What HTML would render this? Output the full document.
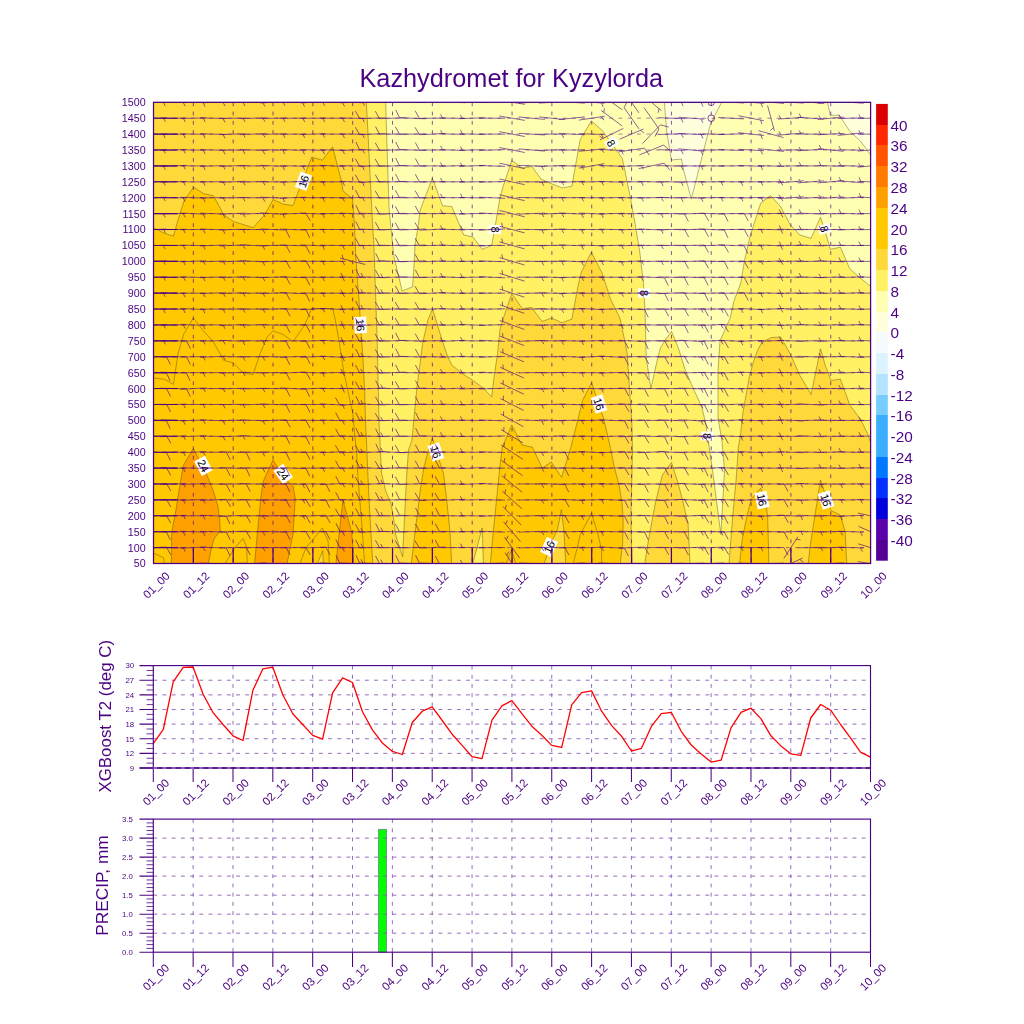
<!DOCTYPE html><html><head><meta charset="utf-8"><title>Kazhydromet for Kyzylorda</title><style>html,body{margin:0;padding:0;background:#fff}body{width:1024px;height:1024px;position:relative;overflow:hidden;font-family:"Liberation Sans",sans-serif}</style></head><body><svg width="1024" height="1024" viewBox="0 0 1024 1024" style="position:absolute;left:0;top:0;opacity:0.9999" font-family="Liberation Sans, sans-serif">
<defs><clipPath id="cp"><rect x="153.5" y="102.3" width="717.1" height="461.2"/></clipPath></defs>
<g clip-path="url(#cp)">
<rect x="153.5" y="102.3" width="717.1" height="461.2" fill="#ffffb2"/>
<polygon points="664.4,102.3 666.6,131.0 671.4,160.0 681.5,159.0 683.0,168.0 691.3,199.0 710.3,124.5 721.6,102.3" fill="#ffffdc" stroke="#3a3a00" stroke-opacity="0.7" stroke-width="0.55" stroke-linejoin="round"/>
<polygon points="827.5,102.3 830.3,115.3 839.2,115.3 849.4,130.8 860.4,141.0 870.6,155.0 870.6,102.3" fill="#ffffdc" stroke="#3a3a00" stroke-opacity="0.7" stroke-width="0.55" stroke-linejoin="round"/>
<polygon points="153.5,563.5 153.5,102.3 385.7,102.3 386.3,123.4 387.4,158.6 388.6,193.8 389.2,210.0 391.5,233.4 393.9,256.9 399.1,278.0 402.1,290.9 412.6,286.8 413.8,268.6 415.0,245.2 417.9,227.6 420.2,210.0 432.4,178.2 442.5,205.7 451.9,206.6 463.6,234.8 473.0,237.1 482.3,249.3 491.7,245.3 494.1,232.4 499.9,198.4 502.3,189.0 511.8,160.5 522.2,168.0 531.8,166.5 541.0,179.0 551.7,183.8 562.3,187.9 571.9,186.2 580.1,139.8 591.3,121.1 602.3,130.5 611.7,143.4 622.3,158.6 625.8,175.0 630.5,198.4 635.2,224.2 639.8,252.3 643.4,282.8 645.0,310.9 645.5,330.0 646.2,357.4 650.9,388.8 657.8,357.4 660.5,347.8 664.6,340.9 671.5,331.4 678.3,347.8 685.1,369.7 694.7,391.6 701.6,406.6 705.7,423.0 709.2,447.2 713.9,480.0 717.4,508.0 720.9,534.5 724.5,470.6 722.1,442.5 718.0,417.5 718.0,371.0 720.0,340.9 724.8,330.0 730.2,318.0 733.8,301.6 740.8,282.8 744.3,261.7 750.2,235.9 760.7,203.1 770.5,195.6 780.6,206.6 790.0,224.2 799.4,234.8 811.1,238.3 820.5,217.2 825.2,231.3 830.3,249.3 840.4,247.2 849.8,268.8 860.3,278.1 870.6,286.3 870.6,563.5" fill="#fff064" stroke="#3a3a00" stroke-opacity="0.7" stroke-width="0.55" stroke-linejoin="round"/>
<polygon points="153.5,563.5 153.5,102.3 366.3,102.3 368.1,135.2 369.8,170.3 371.6,205.5 372.4,220.0 373.9,245.2 375.1,280.3 376.3,315.5 376.9,330.0 377.5,355.2 378.3,390.3 379.2,425.5 380.4,450.0 381.6,473.4 385.7,491.0 390.9,502.7 393.9,520.3 395.6,534.4 400.3,549.6 402.7,556.6 403.2,543.8 404.4,520.3 405.6,496.9 406.8,473.4 408.5,450.0 412.0,440.0 414.4,413.8 416.7,390.3 419.6,366.9 422.6,343.4 427.9,320.0 432.5,309.0 436.0,320.0 441.3,337.6 447.2,355.2 451.9,365.2 463.6,374.5 473.0,380.4 482.3,387.4 491.7,396.8 494.1,376.9 497.6,353.4 499.9,330.0 503.4,318.0 511.8,293.4 522.2,308.6 531.6,307.4 542.1,321.5 551.5,318.0 562.0,322.7 571.9,319.1 577.7,287.5 581.3,272.3 591.3,252.3 602.3,273.4 610.5,299.2 619.9,318.0 624.6,340.0 627.2,353.4 629.5,388.6 631.9,423.8 632.5,450.0 632.0,473.4 631.0,508.6 631.4,543.8 632.0,563.5" fill="#ffd83a" stroke="#3a3a00" stroke-opacity="0.7" stroke-width="0.55" stroke-linejoin="round"/>
<polygon points="644.8,563.5 648.3,541.0 655.3,503.4 662.3,475.3 671.5,462.4 678.0,483.0 683.4,503.4 688.1,524.5 690.0,563.5" fill="#ffd83a" stroke="#3a3a00" stroke-opacity="0.7" stroke-width="0.55" stroke-linejoin="round"/>
<polygon points="729.0,563.5 732.6,517.5 736.1,480.0 738.4,447.2 740.5,435.0 742.6,414.8 746.0,395.6 749.4,376.5 753.5,361.5 757.6,350.5 761.7,342.3 771.3,337.5 780.6,337.0 790.0,353.4 799.4,374.5 811.1,394.5 820.5,348.8 825.2,365.2 831.0,380.4 840.4,379.2 849.8,405.0 860.3,419.1 867.3,433.1 870.6,442.5 870.6,563.5" fill="#ffd83a" stroke="#3a3a00" stroke-opacity="0.7" stroke-width="0.55" stroke-linejoin="round"/>
<polygon points="472.8,563.5 482.2,527.9 483.4,563.5" fill="#fff064" stroke="#3a3a00" stroke-opacity="0.7" stroke-width="0.55" stroke-linejoin="round"/>
<polygon points="153.5,563.5 153.5,227.9 164.1,233.2 173.4,236.1 179.9,213.8 184.0,200.9 193.4,187.2 203.9,193.8 213.3,195.6 223.8,214.8 233.2,221.4 253.1,227.7 264.8,214.8 273.0,199.6 283.6,204.3 293.0,205.5 311.7,157.0 322.3,160.2 332.6,146.9 341.7,182.0 342.9,190.8 352.5,199.0 353.4,210.0 354.6,227.6 355.8,256.9 357.5,280.3 359.3,303.8 361.0,331.7 362.8,355.2 364.6,390.3 365.7,425.5 366.9,450.0 368.1,479.3 369.8,514.5 371.6,543.8 372.8,563.5" fill="#ffc800" stroke="#3a3a00" stroke-opacity="0.7" stroke-width="0.55" stroke-linejoin="round"/>
<polygon points="411.4,563.5 414.4,537.9 417.3,514.5 420.2,491.0 423.8,467.6 428.4,450.0 432.4,437.8 439.6,461.7 443.5,473.4 447.0,502.7 450.0,532.0 451.7,563.5" fill="#ffc800" stroke="#3a3a00" stroke-opacity="0.7" stroke-width="0.55" stroke-linejoin="round"/>
<polygon points="490.4,563.5 492.7,537.9 495.1,514.5 497.4,491.0 499.8,467.6 502.3,447.2 511.8,424.9 521.7,444.8 532.3,447.2 542.3,468.0 551.3,462.0 561.6,477.3 570.9,447.2 578.0,419.1 582.7,400.3 591.6,382.7 603.8,419.1 610.9,450.0 614.4,467.6 619.1,485.2 622.0,502.7 623.2,520.3 622.6,543.8 620.2,563.5" fill="#ffc800" stroke="#3a3a00" stroke-opacity="0.7" stroke-width="0.55" stroke-linejoin="round"/>
<polygon points="739.6,563.5 742.0,541.0 746.6,517.5 751.3,498.8 760.7,488.2 765.4,498.8 767.7,517.5 768.9,563.5" fill="#ffc800" stroke="#3a3a00" stroke-opacity="0.7" stroke-width="0.55" stroke-linejoin="round"/>
<polygon points="808.3,563.5 809.9,548.0 814.6,517.5 820.5,480.0 825.2,494.0 831.0,510.5 840.4,515.2 845.1,531.6 846.7,563.5" fill="#ffc800" stroke="#3a3a00" stroke-opacity="0.7" stroke-width="0.55" stroke-linejoin="round"/>
<polygon points="544.1,563.5 552.9,539.0 557.5,529.7 561.4,509.8 564.0,532.0 565.7,563.5" fill="#ffd83a" stroke="#3a3a00" stroke-opacity="0.7" stroke-width="0.55" stroke-linejoin="round"/>
<polygon points="171.3,563.5 171.7,532.0 175.2,514.5 179.3,488.7 183.4,465.2 193.4,448.4 206.3,473.4 213.3,491.0 218.0,506.3 219.7,520.3 220.3,530.9 213.9,539.0 210.9,550.8 208.4,563.5" fill="#ffa000" stroke="#3a3a00" stroke-opacity="0.7" stroke-width="0.55" stroke-linejoin="round"/>
<polygon points="254.5,563.5 256.1,547.3 258.4,522.7 260.7,499.2 263.1,481.6 273.0,460.1 285.9,480.0 293.0,485.9 295.3,498.7 293.0,533.9 287.1,563.5" fill="#ffa000" stroke="#3a3a00" stroke-opacity="0.7" stroke-width="0.55" stroke-linejoin="round"/>
<polygon points="335.9,563.5 342.9,500.4 351.7,532.0 352.9,547.3 353.4,563.5" fill="#ffa000" stroke="#3a3a00" stroke-opacity="0.7" stroke-width="0.55" stroke-linejoin="round"/>
<polygon points="317.5,563.5 322.7,550.8 323.3,563.5" fill="#ffd83a" stroke="#3a3a00" stroke-opacity="0.7" stroke-width="0.55" stroke-linejoin="round"/>
<polyline points="153.5,378.0 164.1,379.2 173.4,384.4 178.1,353.4 184.0,333.5 193.4,318.0 202.7,330.0 213.3,341.7 223.8,360.5 233.2,362.8 243.8,373.4 253.1,374.5 260.2,353.4 267.2,337.0 273.0,330.9 283.6,334.7 293.0,341.7 304.7,325.0 311.7,308.6 332.8,308.6 335.3,320.0 339.4,343.4 344.0,372.7 348.8,395.0 352.9,413.8 355.2,440.0 356.4,450.0 358.1,479.3 360.5,508.6 362.8,537.9 364.6,563.5" fill="none" stroke="#3a3a00" stroke-opacity="0.7" stroke-width="0.55" stroke-linejoin="round"/>
<polyline points="153.5,553.1 163.5,557.8 164.1,563.5" fill="none" stroke="#3a3a00" stroke-opacity="0.7" stroke-width="0.55" stroke-linejoin="round"/>
<polyline points="225.0,563.5 234.4,548.4 243.2,538.5 246.7,547.3 247.3,563.5" fill="none" stroke="#3a3a00" stroke-opacity="0.7" stroke-width="0.55" stroke-linejoin="round"/>
<polyline points="300.0,563.5 305.9,548.0 322.3,528.0 328.1,541.0 329.3,563.5" fill="none" stroke="#3a3a00" stroke-opacity="0.7" stroke-width="0.55" stroke-linejoin="round"/>
<polyline points="506.2,563.5 511.5,549.6 515.6,563.5" fill="none" stroke="#3a3a00" stroke-opacity="0.7" stroke-width="0.55" stroke-linejoin="round"/>
<polyline points="573.4,563.5 580.4,534.4 591.5,513.3 598.0,534.4 601.5,549.6 601.7,563.5" fill="none" stroke="#3a3a00" stroke-opacity="0.7" stroke-width="0.55" stroke-linejoin="round"/>
<g transform="translate(303.5 181.3) rotate(-70)"><rect x="-8.2" y="-6.1" width="16.5" height="12.2" fill="#fff"/><text x="0" y="4.1" font-size="11" text-anchor="middle" fill="#000">16</text></g>
<g transform="translate(360.5 325.0) rotate(87)"><rect x="-8.2" y="-6.1" width="16.5" height="12.2" fill="#fff"/><text x="0" y="4.1" font-size="11" text-anchor="middle" fill="#000">16</text></g>
<g transform="translate(495.0 229.5) rotate(90)"><rect x="-4.5" y="-6.1" width="9.0" height="12.2" fill="#fff"/><text x="0" y="4.1" font-size="11" text-anchor="middle" fill="#000">8</text></g>
<g transform="translate(611.4 143.0) rotate(60)"><rect x="-4.5" y="-6.1" width="9.0" height="12.2" fill="#fff"/><text x="0" y="4.1" font-size="11" text-anchor="middle" fill="#000">8</text></g>
<g transform="translate(644.0 293.0) rotate(90)"><rect x="-4.5" y="-6.1" width="9.0" height="12.2" fill="#fff"/><text x="0" y="4.1" font-size="11" text-anchor="middle" fill="#000">8</text></g>
<g transform="translate(824.4 229.0) rotate(75)"><rect x="-4.5" y="-6.1" width="9.0" height="12.2" fill="#fff"/><text x="0" y="4.1" font-size="11" text-anchor="middle" fill="#000">8</text></g>
<g transform="translate(203.4 465.8) rotate(62)"><rect x="-8.2" y="-6.1" width="16.5" height="12.2" fill="#fff"/><text x="0" y="4.1" font-size="11" text-anchor="middle" fill="#000">24</text></g>
<g transform="translate(283.1 474.0) rotate(53)"><rect x="-8.2" y="-6.1" width="16.5" height="12.2" fill="#fff"/><text x="0" y="4.1" font-size="11" text-anchor="middle" fill="#000">24</text></g>
<g transform="translate(435.8 452.0) rotate(72)"><rect x="-8.2" y="-6.1" width="16.5" height="12.2" fill="#fff"/><text x="0" y="4.1" font-size="11" text-anchor="middle" fill="#000">16</text></g>
<g transform="translate(599.0 404.0) rotate(72)"><rect x="-8.2" y="-6.1" width="16.5" height="12.2" fill="#fff"/><text x="0" y="4.1" font-size="11" text-anchor="middle" fill="#000">16</text></g>
<g transform="translate(707.0 436.0) rotate(90)"><rect x="-4.5" y="-6.1" width="9.0" height="12.2" fill="#fff"/><text x="0" y="4.1" font-size="11" text-anchor="middle" fill="#000">8</text></g>
<g transform="translate(762.0 500.0) rotate(78)"><rect x="-8.2" y="-6.1" width="16.5" height="12.2" fill="#fff"/><text x="0" y="4.1" font-size="11" text-anchor="middle" fill="#000">16</text></g>
<g transform="translate(826.0 500.0) rotate(72)"><rect x="-8.2" y="-6.1" width="16.5" height="12.2" fill="#fff"/><text x="0" y="4.1" font-size="11" text-anchor="middle" fill="#000">16</text></g>
<g transform="translate(549.0 547.0) rotate(-65)"><rect x="-8.2" y="-6.1" width="16.5" height="12.2" fill="#fff"/><text x="0" y="4.1" font-size="11" text-anchor="middle" fill="#000">16</text></g>
<path d="M153.5 118.20H870.6M153.5 134.11H870.6M153.5 150.01H870.6M153.5 165.91H870.6M153.5 181.82H870.6M153.5 197.72H870.6M153.5 213.62H870.6M153.5 229.53H870.6M153.5 245.43H870.6M153.5 261.33H870.6M153.5 277.24H870.6M153.5 293.14H870.6M153.5 309.04H870.6M153.5 324.95H870.6M153.5 340.85H870.6M153.5 356.76H870.6M153.5 372.66H870.6M153.5 388.56H870.6M153.5 404.47H870.6M153.5 420.37H870.6M153.5 436.27H870.6M153.5 452.18H870.6M153.5 468.08H870.6M153.5 483.98H870.6M153.5 499.89H870.6M153.5 515.79H870.6M153.5 531.69H870.6M153.5 547.60H870.6" fill="none" stroke="#4b0082" stroke-width="0.55" stroke-dasharray="3.8 5.5" stroke-opacity="0.9"/>
<path d="M193.34 102.3V563.5M233.18 102.3V563.5M273.02 102.3V563.5M312.86 102.3V563.5M352.69 102.3V563.5M392.53 102.3V563.5M432.37 102.3V563.5M472.21 102.3V563.5M512.05 102.3V563.5M551.89 102.3V563.5M591.73 102.3V563.5M631.57 102.3V563.5M671.41 102.3V563.5M711.24 102.3V563.5M751.08 102.3V563.5M790.92 102.3V563.5M830.76 102.3V563.5" fill="none" stroke="#4b0082" stroke-width="0.75" stroke-dasharray="3.8 5.5" stroke-opacity="0.9"/>
<path d="M140.5 102.5L166.5 102.1M163.2 102.2L165.3 105.9M140.5 118.6L166.5 117.8M163.2 117.9L165.4 121.6M140.5 133.9L166.5 134.3M163.2 134.2L165.2 138.1M140.5 150.5L166.5 149.5M163.2 149.6L165.4 153.4M140.5 165.9L166.5 166.0M163.2 165.9L165.3 169.7M140.5 182.0L166.5 181.7M163.2 181.7L165.3 185.5M140.5 198.2L166.5 197.2M163.2 197.3L165.4 201.1M140.5 213.6L166.5 213.6M163.2 213.6L165.3 217.4M140.5 230.1L166.5 229.0M163.2 229.1L165.4 232.8M140.5 245.5L166.5 245.4M163.2 245.4L165.3 249.2M140.5 261.8L166.5 260.8M163.2 261.0L165.4 264.7M140.5 277.7L166.5 276.8M163.2 276.9L165.4 280.6M140.5 293.2L166.5 293.1M163.2 293.1L165.3 296.9M140.5 308.7L166.5 309.4M163.2 309.3L165.2 313.2M140.5 325.4L166.5 324.5M163.2 324.6L165.4 328.4M140.5 341.2L166.5 340.5M163.2 340.6L165.4 344.4M140.5 356.6L166.5 356.9M166.5 356.9L170.5 364.5M140.5 372.2L166.5 373.2M166.5 373.2L170.2 380.9M140.5 388.5L166.5 388.6M166.5 388.6L170.5 396.3M140.5 404.6L166.5 404.3M166.5 404.3L170.6 411.9M140.5 419.8L166.5 420.9M166.5 420.9L170.2 428.7M140.5 436.8L166.5 435.8M166.5 435.8L170.8 443.2M140.5 451.8L166.5 452.6M166.5 452.6L170.3 460.3M140.5 468.3L166.5 467.8M166.5 467.8L170.7 475.4M140.5 484.4L166.5 483.6M166.5 483.6L170.8 491.0M140.5 500.3L166.5 499.5M166.5 499.5L170.8 506.9M140.5 516.0L166.5 515.6M166.5 515.6L170.7 523.1M140.5 531.3L166.5 532.1M166.5 532.1L170.3 539.8M140.5 548.0L166.5 547.2M166.5 547.2L170.7 554.7M140.5 563.4L166.5 563.6M166.5 563.6L170.5 571.2M160.4 102.1L186.4 102.5M183.2 102.4L185.1 106.2M160.4 118.3L186.4 118.1M183.2 118.1L185.2 121.9M160.4 134.1L186.4 134.2M183.2 134.1L185.2 138.0M160.4 150.5L186.4 149.5M183.2 149.6L185.3 153.4M160.4 166.4L186.4 165.4M183.2 165.5L185.3 169.3M160.4 182.2L186.4 181.5M183.2 181.6L185.3 185.3M160.4 197.5L186.4 197.9M183.2 197.9L185.1 201.7M160.4 213.7L186.4 213.5M183.2 213.6L185.2 217.3M160.4 229.7L186.4 229.3M183.2 229.4L185.2 233.1M160.4 245.3L186.4 245.5M183.2 245.5L185.2 249.3M160.4 261.4L186.4 261.3M183.2 261.3L185.2 265.1M160.4 277.5L186.4 277.0M183.2 277.1L185.3 280.8M160.4 292.8L186.4 293.5M183.2 293.4L185.1 297.2M160.4 308.8L186.4 309.3M183.2 309.2L185.1 313.0M160.4 325.2L186.4 324.7M183.2 324.7L185.3 328.5M160.4 340.8L186.4 340.9M186.4 340.9L190.4 348.6M160.4 356.7L186.4 356.8M186.4 356.8L190.4 364.4M160.4 372.2L186.4 373.1M186.4 373.1L190.2 380.8M160.4 388.3L186.4 388.8M186.4 388.8L190.3 396.5M160.4 404.7L186.4 404.2M183.2 404.3L185.3 408.0M160.4 419.8L186.4 420.9M183.2 420.8L185.0 424.7M160.4 436.7L186.4 435.8M183.2 435.9L185.3 439.7M160.4 452.3L186.4 452.1M183.2 452.1L185.2 455.9M160.4 467.8L186.4 468.4M183.2 468.3L185.1 472.1M160.4 484.4L186.4 483.6M183.2 483.7L185.3 487.4M160.4 499.9L186.4 499.9M183.2 499.9L185.2 503.7M160.4 516.3L186.4 515.3M183.2 515.4L185.3 519.1M160.4 531.5L186.4 531.9M183.2 531.8L185.1 535.7M160.4 547.3L186.4 547.9M183.2 547.8L185.1 551.7M160.4 563.4L186.4 563.6M183.2 563.6L185.2 567.4M180.3 101.9L206.3 102.7M203.1 102.6L205.0 106.5M180.3 118.4L206.3 118.0M203.1 118.0L205.2 121.8M180.3 133.9L206.3 134.3M203.1 134.3L205.0 138.1M180.3 149.9L206.3 150.1M203.1 150.1L205.1 153.9M180.3 165.8L206.3 166.0M203.1 166.0L205.1 169.8M180.3 181.9L206.3 181.8M203.1 181.8L205.1 185.6M180.3 197.3L206.3 198.1M203.1 198.0L205.0 201.9M180.3 213.1L206.3 214.1M203.1 214.0L205.0 217.9M180.3 229.6L206.3 229.5M203.1 229.5L205.1 233.3M180.3 245.2L206.3 245.6M203.1 245.6L205.1 249.4M180.3 261.8L206.3 260.8M203.1 261.0L205.2 264.7M180.3 277.0L206.3 277.5M203.1 277.4L205.0 281.2M180.3 293.0L206.3 293.3M203.1 293.3L205.1 297.1M180.4 308.5L206.3 309.6M203.1 309.5L204.9 313.3M180.3 324.6L206.3 325.3M203.1 325.2L205.0 329.1M180.3 341.1L206.3 340.6M203.1 340.7L205.2 344.4M180.3 356.9L206.3 356.6M203.1 356.7L205.1 360.4M180.3 372.5L206.3 372.8M203.1 372.8L205.1 376.6M180.4 389.1L206.3 388.0M203.1 388.2L205.3 391.9M180.3 404.5L206.3 404.4M203.1 404.4L205.1 408.2M180.3 420.7L206.3 420.0M203.1 420.1L205.2 423.8M180.3 436.7L206.3 435.8M203.1 435.9L205.2 439.7M180.3 452.7L206.3 451.7M203.1 451.8L205.2 455.5M180.3 467.8L206.3 468.4M203.1 468.3L205.0 472.2M180.3 484.4L206.3 483.6M203.1 483.7L205.2 487.4M180.3 500.2L206.3 499.6M203.1 499.7L205.2 503.4M180.3 515.9L206.3 515.7M203.1 515.7L205.1 519.5M180.3 531.3L206.3 532.1M203.1 532.0L205.0 535.9M180.3 548.1L206.3 547.1M203.1 547.2L205.2 551.0M180.3 563.6L206.3 563.4M203.1 563.5L205.1 567.2M200.3 102.2L226.3 102.4M223.0 102.3L225.0 106.1M200.3 117.8L226.3 118.6M223.0 118.5L224.9 122.4M200.3 133.7L226.3 134.5M223.0 134.4L224.9 138.2M200.3 149.6L226.3 150.4M223.0 150.3L224.9 154.2M200.3 166.2L226.3 165.7M223.0 165.7L225.1 169.5M200.3 181.9L226.3 181.7M223.0 181.7L225.1 185.5M200.3 197.9L226.3 197.6M223.0 197.6L225.1 201.4M200.3 213.2L226.3 214.1M223.0 214.0L224.9 217.8M200.3 229.0L226.2 230.0M223.0 229.9L224.9 233.8M200.3 245.8L226.3 245.0M223.0 245.1L225.1 248.9M200.3 261.7L226.3 261.0M223.0 261.1L225.1 264.8M200.3 277.5L226.3 276.9M223.0 277.0L225.1 280.8M200.3 293.4L226.3 292.8M223.0 292.9L225.1 296.7M200.3 309.1L226.3 309.0M223.0 309.0L225.0 312.8M200.3 324.8L226.3 325.0M223.0 325.0L225.0 328.8M200.3 341.1L226.3 340.6M223.0 340.6L225.1 344.4M200.3 357.3L226.2 356.2M223.0 356.3L225.2 360.0M200.3 372.8L226.3 372.6M223.0 372.6L225.1 376.4M200.3 388.7L226.3 388.4M223.0 388.5L225.1 392.2M200.3 404.4L226.3 404.5M223.0 404.5L225.0 408.3M200.3 419.9L226.2 420.9M223.0 420.8L224.9 424.6M200.3 436.1L226.3 436.5M223.0 436.4L225.0 440.3M200.3 452.2L226.3 452.2M226.3 452.2L230.3 459.8M200.3 467.9L226.3 468.2M226.3 468.2L230.2 475.8M200.3 483.8L226.3 484.2M226.3 484.2L230.2 491.8M200.3 500.4L226.2 499.4M226.2 499.4L230.6 506.8M200.3 515.3L226.3 516.2M226.3 516.2L230.0 524.0M200.3 531.4L226.3 532.0M226.3 532.0L230.1 539.7M200.3 547.2L226.3 548.0M226.3 548.0L230.0 555.7M200.3 563.2L226.3 563.8M226.3 563.8L230.1 571.5M220.2 102.4L246.2 102.2M242.9 102.2L245.0 106.0M220.2 118.3L246.2 118.1M242.9 118.1L245.0 121.9M220.2 134.6L246.2 133.7M242.9 133.8L245.1 137.5M220.2 149.9L246.2 150.2M242.9 150.1L244.9 153.9M220.2 166.4L246.2 165.4M242.9 165.5L245.1 169.3M220.2 182.3L246.2 181.3M242.9 181.4L245.1 185.2M220.2 198.1L246.2 197.4M242.9 197.5L245.0 201.2M220.2 214.0L246.2 213.2M242.9 213.3L245.1 217.1M220.2 229.7L246.2 229.3M242.9 229.4L245.0 233.2M220.2 245.9L246.2 244.9M242.9 245.1L245.1 248.8M220.2 261.9L246.2 260.8M242.9 260.9L245.1 264.6M220.2 277.6L246.2 276.8M242.9 276.9L245.1 280.7M220.2 293.6L246.2 292.7M242.9 292.8L245.1 296.5M220.2 309.2L246.2 308.9M242.9 308.9L245.0 312.7M220.2 325.5L246.2 324.4M242.9 324.5L245.1 328.3M220.2 340.4L246.2 341.3M242.9 341.2L244.8 345.0M220.2 356.6L246.2 356.9M242.9 356.9L244.9 360.7M220.2 373.1L246.2 372.3M242.9 372.4L245.1 376.1M220.2 388.8L246.2 388.3M242.9 388.4L245.0 392.1M220.2 404.6L246.2 404.3M242.9 404.3L245.0 408.1M220.2 420.5L246.2 420.2M242.9 420.3L245.0 424.0M220.2 436.7L246.2 435.8M242.9 436.0L245.1 439.7M220.2 451.8L246.2 452.6M246.2 452.6L250.0 460.3M220.2 467.5L246.2 468.6M246.2 468.6L249.9 476.4M220.2 484.0L246.2 483.9M246.2 483.9L250.2 491.5M220.2 499.9L246.2 499.9M246.2 499.9L250.2 507.5M220.2 516.3L246.2 515.3M246.2 515.3L250.5 522.8M220.2 532.1L246.2 531.2M246.2 531.2L250.5 538.7M220.2 547.8L246.2 547.4M246.2 547.4L250.3 555.0M220.2 563.8L246.2 563.2M246.2 563.2L250.4 570.7M240.1 101.9L266.1 102.7M262.8 102.6L264.8 106.4M240.1 118.6L266.1 117.8M262.8 117.9L265.0 121.7M240.1 134.6L266.1 133.6M262.8 133.7L265.0 137.4M240.1 149.5L266.1 150.5M262.8 150.4L264.7 154.3M240.1 165.9L266.1 165.9M262.8 165.9L264.9 169.7M240.1 182.2L266.1 181.4M262.8 181.5L265.0 185.2M240.1 197.7L266.1 197.8M262.8 197.8L264.9 201.6M240.1 214.2L266.1 213.1M262.8 213.2L265.0 216.9M240.1 229.5L266.1 229.6M262.8 229.6L264.9 233.4M240.1 244.9L266.1 246.0M262.8 245.8L264.7 249.7M240.1 260.9L266.1 261.7M262.8 261.6L264.7 265.5M240.1 277.0L266.1 277.5M262.8 277.4L264.8 281.2M240.1 293.4L266.1 292.9M262.8 292.9L264.9 296.7M240.1 309.2L266.1 308.9M262.8 308.9L264.9 312.7M240.1 325.3L266.1 324.6M262.8 324.7L265.0 328.4M240.1 340.5L266.1 341.2M262.8 341.1L264.8 344.9M240.1 356.7L266.1 356.8M262.8 356.8L264.9 360.6M240.1 372.3L266.1 373.0M262.8 372.9L264.8 376.7M240.1 388.8L266.1 388.4M262.8 388.4L264.9 392.2M240.1 404.8L266.1 404.2M262.8 404.2L265.0 408.0M240.1 420.0L266.1 420.7M262.8 420.6L264.8 424.5M240.1 435.7L266.1 436.8M262.8 436.7L264.7 440.6M240.1 451.8L266.1 452.6M262.8 452.5L264.7 456.3M240.1 467.7L266.1 468.4M262.8 468.3L264.8 472.2M240.1 483.6L266.1 484.3M262.8 484.3L264.8 488.1M240.1 499.6L266.1 500.2M262.8 500.1L264.8 503.9M240.1 516.1L266.1 515.5M262.8 515.6L265.0 519.3M240.1 531.7L266.1 531.7M262.8 531.7L264.9 535.5M240.1 547.8L266.1 547.4M262.8 547.5L264.9 551.2M240.1 564.0L266.1 563.0M262.8 563.1L265.0 566.8M260.0 102.8L286.0 101.8M282.8 101.9L284.9 105.6M260.0 118.5L286.0 118.0M282.8 118.0L284.9 121.8M260.0 134.4L286.0 133.8M282.8 133.9L284.9 137.7M260.0 149.8L286.0 150.2M282.8 150.2L284.7 154.0M260.0 165.4L286.0 166.4M282.8 166.3L284.6 170.2M260.0 181.9L286.0 181.8M282.8 181.8L284.8 185.6M260.0 197.2L286.0 198.2M282.8 198.1L284.6 202.0M260.0 213.1L286.0 214.2M282.8 214.0L284.6 217.9M260.0 229.0L286.0 230.0M286.0 230.0L289.7 237.8M260.0 245.6L286.0 245.3M286.0 245.3L290.1 252.8M260.0 261.7L286.0 261.0M286.0 261.0L290.2 268.5M260.0 277.5L286.0 276.9M286.0 276.9L290.2 284.4M260.0 293.5L286.0 292.8M286.0 292.8L290.2 300.3M260.0 309.4L286.0 308.7M286.0 308.7L290.2 316.2M260.0 324.8L286.0 325.1M286.0 325.1L290.0 332.7M260.0 340.4L286.0 341.3M286.0 341.3L289.8 349.0M260.0 356.4L286.0 357.1M286.0 357.1L289.8 364.9M260.0 372.7L286.0 372.6M286.0 372.6L290.1 380.2M260.0 388.4L286.0 388.7M286.0 388.7L290.0 396.4M260.0 404.1L286.0 404.8M286.0 404.8L289.8 412.5M260.0 420.8L286.0 419.9M286.0 419.9L290.3 427.3M260.0 436.1L286.0 436.5M286.0 436.5L289.9 444.1M260.0 451.7L286.0 452.6M286.0 452.6L289.8 460.4M260.0 467.8L286.0 468.4M286.0 468.4L289.9 476.1M260.0 483.7L286.0 484.3M286.0 484.3L289.9 491.9M260.0 499.9L286.0 499.9M286.0 499.9L290.1 507.4M260.0 516.2L286.0 515.4M286.0 515.4L290.3 522.9M260.0 531.4L286.0 532.0M286.0 532.0L289.9 539.7M260.0 547.8L286.0 547.4M286.0 547.4L290.2 554.9M260.0 563.2L286.0 563.8M286.0 563.8L289.8 571.5M279.9 101.8L305.9 102.8M302.7 102.7L304.5 106.6M279.9 118.3L305.9 118.1M302.7 118.1L304.7 121.9M279.9 134.2L305.9 134.0M302.7 134.0L304.7 137.8M279.9 149.5L305.9 150.5M302.7 150.4L304.5 154.3M279.9 165.7L305.9 166.2M302.7 166.1L304.6 169.9M279.9 182.2L305.9 181.4M302.7 181.5L304.8 185.3M279.9 198.1L305.9 197.3M302.7 197.4L304.8 201.1M279.9 214.0L305.9 213.2M305.9 213.2L310.2 220.7M279.9 229.1L305.9 230.0M305.9 230.0L309.7 237.7M279.9 245.1L305.9 245.8M305.9 245.8L309.8 253.5M279.9 261.7L305.9 260.9M305.9 260.9L310.2 268.4M279.9 276.9L305.9 277.6M305.9 277.6L309.8 285.3M279.9 292.6L305.9 293.7M305.9 293.7L309.6 301.4M279.9 308.9L305.9 309.2M305.9 309.2L309.9 316.9M279.9 325.1L305.9 324.8M305.9 324.8L310.1 332.3M279.9 340.8L305.9 340.9M305.9 340.9L309.9 348.5M279.9 357.2L305.9 356.3M305.9 356.3L310.2 363.8M279.9 373.2L305.9 372.1M305.9 372.1L310.3 379.5M279.9 388.0L305.9 389.1M305.9 389.1L309.6 396.8M279.9 404.3L305.9 404.6M305.9 404.6L309.9 412.3M279.9 420.3L305.9 420.4M305.9 420.4L310.0 428.0M279.9 435.8L305.9 436.8M305.9 436.8L309.7 444.5M279.9 452.3L305.9 452.1M305.9 452.1L310.0 459.7M279.9 467.7L305.9 468.5M305.9 468.5L309.7 476.2M279.9 483.6L305.9 484.4M305.9 484.4L309.8 492.1M302.7 484.3L304.6 488.1M279.9 500.2L305.9 499.6M305.9 499.6L310.2 507.0M302.7 499.6L304.8 503.4M279.9 516.1L305.9 515.5M305.9 515.5L310.1 523.0M302.7 515.6L304.8 519.3M279.9 531.9L305.9 531.5M305.9 531.5L310.1 539.0M279.9 547.9L305.9 547.3M305.9 547.3L310.1 554.8M279.9 563.4L305.9 563.6M305.9 563.6L309.9 571.2M299.9 102.6L325.9 102.0M322.6 102.1L324.7 105.8M299.9 118.3L325.9 118.1M322.6 118.1L324.7 121.9M299.9 134.5L325.8 133.7M322.6 133.8L324.7 137.5M299.9 149.5L325.8 150.5M322.6 150.4L324.5 154.2M299.9 166.1L325.9 165.7M322.6 165.8L324.7 169.6M299.9 181.9L325.9 181.8M322.6 181.8L324.6 185.6M299.9 197.6L325.9 197.8M322.6 197.8L324.6 201.6M299.9 213.2L325.8 214.1M322.6 214.0L324.5 217.8M299.9 229.6L325.9 229.4M322.6 229.5L324.7 233.2M299.9 245.0L325.8 245.9M322.6 245.8L324.5 249.7M299.9 261.3L325.9 261.3M322.6 261.3L324.6 265.1M299.9 277.2L325.9 277.3M322.6 277.3L324.6 281.1M299.9 293.1L325.9 293.2M322.6 293.2L324.6 297.0M299.9 309.6L325.8 308.5M322.6 308.6L324.8 312.3M299.9 325.0L325.9 324.9M322.6 324.9L324.6 328.7M299.9 341.2L325.9 340.5M322.6 340.6L324.7 344.3M299.9 357.3L325.8 356.2M322.6 356.3L324.8 360.0M299.9 372.3L325.9 373.0M322.6 372.9L324.5 376.8M299.9 388.9L325.9 388.2M322.6 388.3L324.7 392.0M299.9 404.5L325.9 404.4M322.6 404.4L324.6 408.2M299.9 420.1L325.9 420.6M322.6 420.6L324.5 424.4M299.9 436.2L325.9 436.3M322.6 436.3L324.6 440.1M299.9 452.4L325.9 452.0M322.6 452.0L324.7 455.8M299.9 468.1L325.9 468.1M322.6 468.1L324.6 471.9M299.9 483.9L325.9 484.0M325.9 484.0L329.9 491.7M299.9 499.6L325.9 500.2M325.9 500.2L329.7 507.9M299.9 516.2L325.8 515.3M325.8 515.3L330.1 522.8M299.9 531.6L325.9 531.8M325.9 531.8L329.9 539.4M299.9 547.9L325.9 547.3M325.9 547.3L330.1 554.8M299.9 563.8L325.9 563.2M325.9 563.2L330.0 570.8M319.8 102.0L345.8 102.6M342.5 102.5L344.5 106.4M319.8 118.2L345.8 118.2M342.5 118.2L344.5 122.0M319.8 134.0L345.8 134.2M342.5 134.2L344.5 138.0M319.8 149.7L345.8 150.3M342.5 150.2L344.5 154.1M319.8 165.4L345.8 166.4M342.5 166.3L344.4 170.1M319.8 181.9L345.8 181.8M342.5 181.8L344.6 185.6M319.8 197.6L345.8 197.8M342.5 197.8L344.5 201.6M319.8 213.6L345.8 213.6M342.5 213.6L344.5 217.4M319.8 229.5L345.8 229.5M342.5 229.5L344.5 233.3M319.8 245.2L345.8 245.6M342.5 245.6L344.5 249.4M319.8 261.4L345.8 261.3M342.5 261.3L344.6 265.1M319.8 277.2L345.8 277.3M342.5 277.3L344.5 281.1M319.8 293.2L345.8 293.1M342.5 293.1L344.6 296.9M319.8 308.5L345.8 309.5M342.5 309.4L344.4 313.3M319.8 324.7L345.8 325.2M342.5 325.1L344.5 328.9M319.8 340.4L345.8 341.3M342.5 341.2L344.4 345.0M319.8 356.3L345.8 357.3M342.5 357.1L344.4 361.0M319.8 372.9L345.8 372.4M342.5 372.5L344.6 376.2M319.8 388.5L345.8 388.6M342.5 388.6L344.5 392.4M319.8 404.0L345.8 405.0M342.5 404.8L344.4 408.7M319.8 420.0L345.8 420.8M342.5 420.7L344.4 424.5M319.8 436.7L345.8 435.9M342.5 436.0L344.7 439.7M319.8 452.6L345.8 451.7M342.5 451.9L344.7 455.6M319.8 468.1L345.8 468.0M342.5 468.0L344.6 471.8M319.8 484.5L345.8 483.5M342.5 483.6L344.7 487.3M319.8 500.2L345.8 499.6M342.5 499.7L344.6 503.4M319.8 516.3L345.8 515.3M342.5 515.4L344.7 519.1M319.8 531.5L345.8 531.9M342.5 531.8L344.5 535.7M319.8 547.3L345.8 547.9M342.5 547.8L344.4 551.7M319.8 563.0L345.8 564.0M342.5 563.8L344.4 567.7M339.7 102.7L365.7 101.9M362.4 102.0L364.6 105.7M339.7 118.0L365.7 118.4M362.4 118.4L364.4 122.2M339.7 133.9L365.7 134.3M362.4 134.2L364.4 138.1M339.7 150.4L365.7 149.6M362.4 149.7L364.6 153.4M339.7 165.5L365.7 166.3M362.4 166.2L364.3 170.1M339.7 181.3L365.7 182.3M362.4 182.2L364.3 186.1M339.7 198.0L365.7 197.4M362.4 197.5L364.6 201.2M339.7 213.1L365.7 214.1M362.4 214.0L364.3 217.9M339.7 229.6L365.7 229.4M362.4 229.4L364.5 233.2M339.7 245.4L365.7 245.4M362.4 245.4L364.5 249.2M365.3 264.5L340.1 258.2M343.2 259.0L342.2 254.8M365.7 277.6L339.7 276.9M342.9 277.0L341.0 273.1M365.7 292.8L339.7 293.5M342.9 293.4L340.8 289.7M365.7 309.0L339.7 309.1M342.9 309.1L340.9 305.3M365.7 325.0L339.7 324.9M342.9 324.9L340.9 321.1M365.7 340.7L339.7 341.0M342.9 341.0L340.9 337.2M365.7 356.4L339.7 357.1M342.9 357.0L340.8 353.3M365.7 372.5L339.7 372.9M342.9 372.8L340.9 369.0M365.7 388.8L339.7 388.3M342.9 388.4L341.0 384.5M365.7 403.9L339.7 405.0M339.7 405.0L335.4 397.6M365.7 420.4L339.7 420.3M339.7 420.3L335.7 412.7M365.7 436.2L339.7 436.3M339.7 436.3L335.6 428.8M365.7 451.6L339.7 452.7M339.7 452.7L335.4 445.3M365.7 467.9L339.7 468.3M339.7 468.3L335.5 460.7M365.7 484.1L339.7 483.8M339.7 483.8L335.7 476.2M365.7 499.9L339.7 499.9M339.7 499.9L335.7 492.3M365.7 515.3L339.7 516.3M339.7 516.3L335.4 508.8M365.7 532.2L339.7 531.1M339.7 531.1L336.0 523.4M365.7 547.9L339.7 547.3M339.7 547.3L335.9 539.6M365.7 564.0L339.7 563.0M339.7 563.0L336.0 555.2M385.6 101.9L359.6 102.7M359.6 102.7L355.3 95.3M385.6 117.9L359.6 118.5M359.6 118.5L355.4 111.0M385.6 133.6L359.6 134.6M359.6 134.6L355.3 127.2M385.6 150.3L359.6 149.7M359.6 149.7L355.8 142.0M385.6 165.7L359.6 166.2M359.6 166.2L355.4 158.7M385.6 181.4L359.6 182.2M359.6 182.2L355.3 174.8M385.6 197.6L359.6 197.8M359.6 197.8L355.5 190.2M385.6 214.1L359.6 213.2M359.6 213.2L355.9 205.4M385.6 229.9L359.6 229.2M359.6 229.2L355.8 221.5M385.6 245.2L359.6 245.7M359.6 245.7L355.4 238.2M385.6 260.9L359.6 261.7M359.6 261.7L355.4 254.3M385.6 277.7L359.6 276.8M359.6 276.8L355.9 269.0M362.9 276.9L361.0 273.0M385.6 293.2L359.6 293.1M359.6 293.1L355.6 285.4M362.9 293.1L360.9 289.3M385.6 309.3L359.6 308.8M359.6 308.8L355.7 301.2M362.9 308.9L360.9 305.0M385.6 324.5L359.6 325.4M359.6 325.4L355.3 318.0M362.9 325.3L360.7 321.6M385.6 340.3L359.6 341.4M359.6 341.4L355.3 333.9M362.9 341.2L360.7 337.5M385.6 357.0L359.6 356.5M359.6 356.5L355.7 348.9M362.9 356.6L360.9 352.8M385.6 372.6L359.6 372.7M359.6 372.7L355.5 365.2M362.9 372.7L360.8 368.9M385.6 388.1L359.6 389.0M359.6 389.0L355.3 381.6M362.9 388.9L360.7 385.2M385.6 405.0L359.6 404.0M359.6 404.0L355.9 396.2M362.9 404.1L361.0 400.2M385.6 420.5L359.6 420.2M359.6 420.2L355.7 412.6M362.9 420.3L360.9 416.4M385.6 436.6L359.6 435.9M359.6 435.9L355.8 428.2M362.9 436.0L360.9 432.2M385.6 451.7L359.6 452.6M359.6 452.6L355.3 445.2M362.9 452.5L360.7 448.8M385.6 468.5L359.6 467.7M359.6 467.7L355.8 460.0M362.9 467.8L361.0 463.9M385.6 483.5L359.6 484.5M359.6 484.5L355.3 477.0M362.9 484.4L360.7 480.6M385.6 500.3L359.6 499.5M359.6 499.5L355.8 491.8M362.9 499.6L361.0 495.7M385.6 515.7L359.6 515.8M359.6 515.8L355.5 508.3M362.9 515.8L360.8 512.0M385.6 531.5L359.6 531.9M359.6 531.9L355.5 524.3M362.9 531.8L360.8 528.1M385.6 547.7L359.6 547.5M359.6 547.5L355.6 539.9M362.9 547.6L360.9 543.7M385.6 564.0L359.6 563.0M359.6 563.0L355.9 555.3M362.9 563.1L361.0 559.3M405.5 102.0L379.5 102.6M379.5 102.6L375.3 95.1M405.5 117.8L379.5 118.6M379.5 118.6L375.3 111.2M405.5 134.1L379.5 134.1M379.5 134.1L375.5 126.5M405.5 149.7L379.5 150.3M379.5 150.3L375.3 142.8M405.5 165.5L379.5 166.4M379.5 166.4L375.2 158.9M405.5 181.4L379.5 182.2M379.5 182.2L375.3 174.7M405.5 197.2L379.5 198.2M379.5 198.2L375.2 190.8M405.5 213.3L379.5 214.0M379.5 214.0L375.3 206.5M405.5 229.3L379.5 229.7M379.5 229.7L375.4 222.2M405.5 245.2L379.5 245.7M379.5 245.7L375.4 238.1M405.5 261.6L379.5 261.0M379.5 261.0L375.7 253.4M405.5 277.0L379.5 277.5M379.5 277.5L375.4 270.0M382.8 277.4L380.7 273.7M405.5 293.1L379.5 293.1M379.5 293.1L375.5 285.5M382.8 293.1L380.8 289.3M405.5 308.7L379.5 309.4M379.5 309.4L375.3 301.9M382.8 309.3L380.7 305.6M405.5 324.8L379.5 325.1M379.5 325.1L375.4 317.6M382.8 325.1L380.7 321.3M405.5 340.3L379.5 341.4M379.5 341.4L375.2 334.0M382.8 341.3L380.6 337.6M405.5 356.5L379.5 357.0M379.5 357.0L375.3 349.5M382.8 357.0L380.7 353.2M405.5 372.1L379.5 373.2M379.5 373.2L375.2 365.8M382.8 373.1L380.6 369.4M405.5 388.8L379.5 388.3M379.5 388.3L375.7 380.6M382.8 388.4L380.8 384.5M405.5 404.5L379.5 404.4M379.5 404.4L375.5 396.8M382.8 404.4L380.8 400.6M405.5 420.0L379.5 420.7M379.5 420.7L375.3 413.2M382.8 420.6L380.7 416.9M405.5 436.2L379.5 436.3M379.5 436.3L375.5 428.7M382.8 436.3L380.8 432.5M405.5 452.7L379.5 451.7M379.5 451.7L375.8 443.9M382.8 451.8L380.9 447.9M405.5 467.6L379.5 468.5M379.5 468.5L375.2 461.1M382.8 468.4L380.6 464.7M405.5 484.3L379.5 483.6M379.5 483.6L375.7 475.9M382.8 483.7L380.9 479.9M405.5 499.8L379.5 500.0M379.5 500.0L375.5 492.4M382.8 499.9L380.7 496.2M405.5 515.8L379.5 515.8M379.5 515.8L375.5 508.2M382.8 515.8L380.8 512.0M405.5 532.1L379.5 531.3M379.5 531.3L375.7 523.6M382.8 531.4L380.9 527.6M405.5 547.5L379.5 547.7M379.5 547.7L375.4 540.2M382.8 547.7L380.7 543.9M405.5 563.5L379.5 563.5M379.5 563.5L375.5 555.9M382.8 563.5L380.8 559.7M425.5 102.5L399.5 102.1M399.5 102.1L395.5 94.4M425.4 118.8L399.5 117.7M399.5 117.7L395.8 109.9M425.5 133.9L399.5 134.3M399.5 134.3L395.3 126.7M425.4 150.4L399.5 149.6M399.5 149.6L395.6 141.9M425.5 166.1L399.5 165.7M399.5 165.7L395.6 158.0M425.5 182.0L399.5 181.7M399.5 181.7L395.5 174.0M425.5 197.6L399.5 197.8M399.5 197.8L395.4 190.3M425.5 213.5L399.5 213.8M399.5 213.8L395.3 206.3M425.4 229.0L399.5 230.0M399.5 230.0L395.1 222.6M425.4 245.0L399.5 245.9M399.5 245.9L395.2 238.4M425.4 260.8L399.5 261.8M399.5 261.8L395.1 254.4M425.4 277.5L399.5 277.0M399.5 277.0L395.6 269.3M425.4 292.9L399.5 293.4M399.5 293.4L395.3 285.9M425.4 308.7L399.5 309.4M399.5 309.4L395.2 302.0M425.4 324.5L399.5 325.4M399.5 325.4L395.2 318.0M425.4 341.2L399.5 340.5M399.5 340.5L395.6 332.8M425.4 357.2L399.5 356.3M399.5 356.3L395.7 348.6M425.5 372.9L399.5 372.5M399.5 372.5L395.5 364.8M425.5 388.3L399.5 388.8M399.5 388.8L395.3 381.3M425.4 404.2L399.5 404.8M399.5 404.8L395.2 397.3M425.5 420.1L399.5 420.6M399.5 420.6L395.3 413.1M425.5 436.2L399.5 436.3M399.5 436.3L395.4 428.7M425.4 451.8L399.5 452.6M399.5 452.6L395.2 445.1M425.5 468.0L399.5 468.1M399.5 468.1L395.4 460.6M425.5 483.7L399.5 484.3M399.5 484.3L395.3 476.7M425.4 500.4L399.5 499.4M399.5 499.4L395.7 491.6M425.4 516.3L399.5 515.3M399.5 515.3L395.7 507.5M425.5 531.7L399.5 531.6M399.5 531.6L395.4 524.0M425.4 547.3L399.5 547.9M399.5 547.9L395.3 540.4M425.4 564.0L399.5 563.0M399.5 563.0L395.7 555.2M445.4 102.1L419.4 102.5M419.4 102.5L415.2 95.0M445.4 118.0L419.4 118.4M419.4 118.4L415.2 110.8M445.4 133.5L419.4 134.7M419.4 134.7L415.0 127.3M445.4 149.9L419.4 150.1M419.4 150.1L415.3 142.6M445.4 165.9L419.4 165.9M419.4 165.9L415.3 158.4M445.4 181.8L419.4 181.8M419.4 181.8L415.3 174.2M445.4 197.4L419.4 198.1M419.4 198.1L415.1 190.6M445.4 213.6L419.4 213.6M419.4 213.6L415.3 206.0M445.4 229.0L419.4 230.1M419.4 230.1L415.0 222.7M445.4 245.2L419.4 245.7M419.4 245.7L415.2 238.2M445.4 260.9L419.4 261.8M419.4 261.8L415.1 254.4M445.4 277.1L419.4 277.4M419.4 277.4L415.3 269.8M445.4 292.6L419.4 293.7M419.4 293.7L415.0 286.2M445.4 308.5L419.4 309.6M419.4 309.6L415.0 302.2M445.4 324.7L419.4 325.2M419.4 325.2L415.2 317.6M445.4 340.5L419.4 341.2M419.4 341.2L415.2 333.7M445.4 356.9L419.4 356.7M419.4 356.7L415.4 349.0M445.4 372.7L419.4 372.6M419.4 372.6L415.4 365.0M445.4 388.8L419.4 388.3M419.4 388.3L415.5 380.6M445.4 404.6L419.4 404.3M419.4 404.3L415.4 396.6M445.4 420.6L419.4 420.1M419.4 420.1L415.5 412.5M445.4 436.7L419.4 435.8M419.4 435.8L415.6 428.1M445.4 452.1L419.4 452.3M419.4 452.3L415.3 444.7M445.4 467.9L419.4 468.3M419.4 468.3L415.2 460.7M445.4 484.5L419.4 483.4M419.4 483.4L415.7 475.7M445.4 499.5L419.4 500.3M419.4 500.3L415.1 492.8M445.4 516.0L419.4 515.5M419.4 515.5L415.5 507.9M445.4 531.9L419.4 531.5M419.4 531.5L415.4 523.9M445.4 547.1L419.4 548.1M419.4 548.1L415.0 540.7M445.4 563.9L419.4 563.1M419.4 563.1L415.6 555.4M465.3 102.7L439.3 101.9M442.5 102.0L440.7 98.1M465.3 118.3L439.3 118.1M442.5 118.1L440.6 114.3M465.3 134.4L439.3 133.8M442.5 133.9L440.6 130.1M465.3 150.4L439.3 149.7M442.5 149.7L440.6 145.9M465.3 165.5L439.3 166.3M442.5 166.2L440.4 162.5M465.3 181.8L439.3 181.8M442.5 181.8L440.5 178.0M465.3 197.7L439.3 197.7M442.5 197.7L440.5 193.9M465.3 214.0L439.3 213.2M442.5 213.3L440.6 209.5M465.3 229.9L439.3 229.2M442.5 229.3L440.6 225.4M465.3 245.8L439.3 245.1M442.5 245.2L440.6 241.3M465.3 261.4L439.3 261.2M442.5 261.3L440.6 257.5M465.3 277.7L439.3 276.8M442.5 276.9L440.7 273.0M465.3 293.3L439.3 292.9M442.5 293.0L440.6 289.2M465.3 309.3L439.3 308.8M442.5 308.9L440.6 305.1M465.3 324.6L439.3 325.3M442.5 325.2L440.4 321.4M465.3 340.3L439.3 341.4M442.5 341.3L440.4 337.5M465.3 356.3L439.3 357.2M442.5 357.1L440.4 353.3M465.3 372.5L439.3 372.8M442.5 372.8L440.5 369.0M465.3 388.1L439.3 389.0M442.5 388.9L440.4 385.2M465.3 404.8L439.3 404.1M442.5 404.2L440.6 400.3M465.3 420.4L439.3 420.3M442.5 420.3L440.5 416.5M465.3 436.4L439.3 436.1M442.5 436.2L440.6 432.3M465.3 452.3L439.3 452.0M439.3 452.0L435.3 444.4M465.3 468.3L439.3 467.9M439.3 467.9L435.4 460.2M465.3 484.0L439.3 484.0M439.3 484.0L435.2 476.4M465.3 499.3L439.3 500.4M439.3 500.4L434.9 493.0M465.3 516.1L439.3 515.5M439.3 515.5L435.5 507.8M465.3 532.0L439.3 531.4M439.3 531.4L435.4 523.7M465.3 547.6L439.3 547.6M439.3 547.6L435.3 540.0M465.3 563.5L439.3 563.5M439.3 563.5L435.3 555.9M485.2 102.5L459.2 102.1M462.5 102.2L460.5 98.3M485.2 117.7L459.2 118.7M462.5 118.6L460.3 114.9M485.2 134.4L459.2 133.8M462.5 133.9L460.5 130.1M485.2 149.7L459.2 150.3M462.5 150.2L460.4 146.5M485.2 165.4L459.2 166.4M462.5 166.3L460.3 162.6M485.2 181.6L459.2 182.1M462.5 182.0L460.4 178.3M485.2 198.0L459.2 197.5M462.5 197.5L460.5 193.7M485.2 213.3L459.2 214.0M462.5 213.9L460.3 210.1M485.2 229.8L459.2 229.3M462.5 229.3L460.5 225.5M485.2 246.0L459.2 244.9M462.5 245.0L460.6 241.1M485.2 261.3L459.2 261.3M462.5 261.3L460.4 257.5M485.2 277.1L459.2 277.4M462.5 277.3L460.4 273.6M485.2 293.1L459.2 293.2M462.5 293.2L460.4 289.4M485.2 309.3L459.2 308.8M462.5 308.9L460.5 305.1M485.2 325.3L459.2 324.6M462.5 324.7L460.5 320.9M485.2 341.0L459.2 340.7M462.5 340.8L460.5 336.9M485.2 356.9L459.2 356.6M462.5 356.6L460.5 352.8M485.2 372.2L459.2 373.1M462.5 373.0L460.3 369.3M485.2 388.2L459.2 389.0M462.5 388.9L460.3 385.1M485.2 404.2L459.2 404.7M462.5 404.7L460.4 400.9M485.2 420.6L459.2 420.1M462.5 420.2L460.5 416.3M485.2 436.1L459.2 436.5M462.5 436.4L460.4 432.7M485.2 452.3L459.2 452.1M462.5 452.1L460.5 448.3M485.2 467.5L459.2 468.6M462.5 468.5L460.3 464.8M485.2 483.5L459.2 484.5M462.5 484.4L460.3 480.6M485.2 499.6L459.2 500.1M462.5 500.1L460.4 496.3M485.2 516.0L459.2 515.6M462.5 515.6L460.5 511.8M485.2 531.9L459.2 531.5M462.5 531.5L460.5 527.7M485.2 547.8L459.2 547.4M462.5 547.4L460.5 543.6M485.2 563.3L459.2 563.7M462.5 563.7L460.4 559.9M505.1 102.3L479.1 102.3M505.1 118.2L479.1 118.2M505.1 134.1L479.1 134.1M505.1 149.6L479.1 150.4M505.1 166.4L479.1 165.5M505.1 181.5L479.1 182.2M505.1 198.3L479.1 197.2M505.1 214.1L479.1 213.1M505.1 229.0L479.1 230.1M505.1 245.4L479.1 245.5M505.1 261.7L479.1 261.0M505.1 277.8L479.1 276.7M505.1 293.1L479.1 293.2M505.1 308.8L479.1 309.3M505.1 324.6L479.1 325.3M505.1 341.4L479.1 340.3M505.1 356.4L479.1 357.1M505.1 372.8L479.1 372.6M505.1 388.2L479.1 389.0M505.1 404.5L479.1 404.4M505.1 420.9L479.1 419.9M505.1 435.9L479.1 436.7M505.1 452.5L479.1 451.8M505.1 468.1L479.1 468.1M505.1 484.4L479.1 483.5M505.1 500.1L479.1 499.7M505.1 515.5L479.1 516.1M505.1 532.1L479.1 531.2M505.1 547.6L479.1 547.6M505.1 563.0L479.1 564.0M524.9 104.3L499.2 100.3M524.9 120.4L499.2 116.0M524.8 136.5L499.3 131.7M524.8 152.5L499.3 147.5M524.8 168.6L499.3 163.2M524.7 184.7L499.4 179.0M524.7 200.7L499.4 194.7M524.7 216.8L499.4 210.4M524.6 232.9L499.5 226.2M502.6 227.0L501.6 222.8M524.6 248.9L499.5 241.9M502.7 242.8L501.7 238.6M524.5 265.0L499.6 257.6M502.7 258.6L501.8 254.4M524.5 281.1L499.6 273.4M502.7 274.3L502.0 270.1M524.4 297.2L499.7 289.1M502.8 290.1L502.1 285.9M524.3 313.3L499.8 304.8M502.8 305.9L502.2 301.6M524.3 329.4L499.8 320.5M502.9 321.6L502.3 317.4M524.2 345.6L499.9 336.1M503.0 337.3L502.5 333.0M524.0 361.8L500.1 351.7M503.1 353.0L502.7 348.7M523.9 378.0L500.2 367.3M503.2 368.7L502.9 364.4M523.8 394.2L500.3 382.9M503.3 384.3L503.1 380.1M523.6 410.4L500.5 398.6M503.4 400.0L503.3 395.7M523.4 426.7L500.7 414.0M503.5 415.6L503.6 411.3M523.1 443.1L501.0 429.5M503.7 431.2L504.0 426.9M522.9 459.4L501.2 445.0M503.9 446.8L504.4 442.5M522.6 475.7L501.5 460.4M504.2 462.3L504.8 458.1M522.2 492.2L501.9 475.8M504.5 477.8L505.3 473.6M521.7 508.6L502.4 491.2M504.8 493.4L505.8 489.2M521.2 525.0L502.9 506.6M505.2 508.9L506.4 504.8M520.5 541.6L503.6 521.8M505.7 524.3L507.3 520.3M519.7 558.1L504.4 537.1M506.3 539.7L508.2 535.8M519.1 574.4L505.0 552.6M506.7 555.3L508.8 551.6M544.9 101.5L519.0 103.1M544.9 119.4L519.0 117.0M544.9 135.0L519.0 133.3M544.9 151.1L519.0 148.9M519.0 165.4L545.0 166.4M541.7 166.3L543.6 170.2M519.0 181.8L545.0 181.9M541.7 181.9L543.7 185.7M519.0 197.5L545.0 198.0M541.7 197.9L543.7 201.7M519.0 214.1L545.0 213.1M541.7 213.2L543.9 217.0M519.0 229.3L545.0 229.8M541.7 229.7L543.7 233.6M519.0 245.5L545.0 245.4M541.7 245.4L543.8 249.2M519.0 261.0L545.0 261.6M541.7 261.5L543.7 265.4M519.0 277.1L545.0 277.4M541.7 277.4L543.7 281.2M519.0 293.4L545.0 292.9M541.7 293.0L543.8 296.7M519.0 309.6L545.0 308.5M541.7 308.7L543.9 312.4M519.0 324.5L545.0 325.4M541.7 325.3L543.6 329.2M519.0 341.3L545.0 340.4M541.7 340.5L543.9 344.3M519.0 356.8L545.0 356.7M541.7 356.7L543.7 360.5M519.0 372.8L545.0 372.5M541.7 372.5L543.8 376.3M519.0 388.8L545.0 388.3M541.7 388.4L543.8 392.2M519.0 404.2L545.0 404.7M541.7 404.7L543.7 408.5M519.0 419.8L545.0 420.9M541.7 420.8L543.6 424.7M519.0 436.5L545.0 436.0M541.7 436.1L543.8 439.8M519.0 452.0L545.0 452.4M541.7 452.3L543.7 456.1M519.0 468.3L545.0 467.9M541.7 467.9L543.8 471.7M519.0 483.9L545.0 484.0M541.7 484.0L543.7 487.8M519.0 500.0L545.0 499.8M541.7 499.8L543.8 503.6M519.0 516.2L545.0 515.4M541.7 515.5L543.8 519.2M519.0 532.1L545.0 531.3M541.7 531.4L543.8 535.1M519.0 547.9L545.0 547.3M541.7 547.3L543.8 551.1M519.0 563.0L545.0 564.0M541.7 563.8L543.6 567.7M564.9 101.5L538.9 103.1M564.8 119.6L539.0 116.9M538.9 134.2L564.9 134.1M561.6 134.1L563.7 137.9M538.9 150.4L564.9 149.6M561.6 149.7L563.8 153.4M538.9 166.3L564.9 165.6M561.6 165.7L563.8 169.4M538.9 182.3L564.9 181.4M561.6 181.5L563.8 185.2M538.9 197.9L564.9 197.5M561.6 197.6L563.7 201.4M538.9 214.1L564.9 213.2M561.6 213.3L563.8 217.0M538.9 229.8L564.9 229.2M561.6 229.3L563.7 233.1M538.9 245.7L564.9 245.2M561.6 245.2L563.7 249.0M538.9 261.3L564.9 261.4M561.6 261.4L563.6 265.2M538.9 276.8L564.9 277.7M561.6 277.6L563.5 281.4M538.9 292.9L564.9 293.4M561.6 293.4L563.6 297.2M538.9 309.1L564.9 308.9M561.6 309.0L563.7 312.8M538.9 325.0L564.9 324.9M561.6 324.9L563.7 328.7M538.9 340.8L564.9 340.9M561.6 340.9L563.6 344.7M538.9 356.9L564.9 356.6M561.6 356.7L563.7 360.4M538.9 372.8L564.9 372.5M561.6 372.5L563.7 376.3M538.9 389.1L564.9 388.1M561.6 388.2L563.8 391.9M538.9 404.7L564.9 404.2M561.6 404.3L563.7 408.0M538.9 419.8L564.9 420.9M561.6 420.8L563.5 424.6M538.9 436.7L564.9 435.8M561.6 436.0L563.8 439.7M538.9 452.2L564.9 452.2M564.9 452.2L568.9 459.8M538.9 467.9L564.9 468.2M564.9 468.2L568.8 475.9M538.9 483.6L564.9 484.4M564.9 484.4L568.7 492.1M538.9 500.2L564.9 499.6M564.9 499.6L569.1 507.1M538.9 516.0L564.9 515.5M564.9 515.5L569.1 523.0M538.9 532.0L564.9 531.4M564.9 531.4L569.1 538.9M538.9 547.7L564.9 547.5M564.9 547.5L569.0 555.0M538.9 563.6L564.9 563.4M564.9 563.4L569.0 571.0M584.8 103.2L558.8 101.4M584.7 116.9L558.9 119.5M584.8 134.7L558.8 133.5M584.8 149.9L558.8 150.1M558.8 165.8L584.8 166.0M581.6 166.0L583.5 169.8M558.8 182.4L584.8 181.3M581.5 181.4L583.7 185.1M558.8 197.8L584.8 197.6M581.6 197.6L583.6 201.4M558.8 213.1L584.8 214.1M581.6 214.0L583.4 217.9M558.8 229.2L584.8 229.9M581.6 229.8L583.5 233.7M558.8 245.0L584.8 245.8M581.6 245.7L583.5 249.6M558.8 260.8L584.8 261.9M581.6 261.7L583.4 265.6M558.8 277.5L584.8 277.0M581.6 277.0L583.7 280.8M558.8 293.6L584.8 292.7M581.6 292.8L583.7 296.5M558.8 309.4L584.8 308.7M581.6 308.8L583.7 312.5M558.8 324.9L584.8 325.0M581.6 325.0L583.6 328.8M558.8 340.6L584.8 341.1M581.6 341.0L583.5 344.8M558.8 356.3L584.8 357.3M581.6 357.1L583.4 361.0M558.8 372.4L584.8 372.9M581.6 372.8L583.5 376.7M558.8 388.4L584.8 388.7M581.6 388.7L583.5 392.5M558.8 404.2L584.8 404.8M581.6 404.7L583.5 408.5M558.8 420.4L584.8 420.3M581.6 420.3L583.6 424.1M558.8 436.2L584.8 436.3M581.6 436.3L583.6 440.1M558.8 452.7L584.8 451.7M581.6 451.8L583.7 455.5M558.8 467.8L584.8 468.4M581.6 468.3L583.5 472.2M558.8 484.3L584.8 483.7M581.6 483.8L583.7 487.5M558.8 499.4L584.8 500.4M581.6 500.2L583.4 504.1M558.8 515.6L584.8 516.0M581.6 515.9L583.5 519.7M558.8 531.9L584.8 531.5M581.6 531.5L583.6 535.3M558.8 548.0L584.8 547.2M581.6 547.3L583.7 551.0M558.8 563.8L584.8 563.2M581.6 563.3L583.7 567.0M578.8 101.4L604.7 103.2M601.5 103.0L603.2 106.9M578.9 120.1L604.6 116.3M601.4 116.7L603.9 120.2M578.7 133.7L604.7 134.5M601.5 134.4L603.4 138.2M578.8 151.3L604.7 148.8M601.4 149.1L603.8 152.7M578.9 168.1L604.5 163.7M601.3 164.3L604.0 167.7M578.7 182.0L604.7 181.6M601.5 181.6L603.6 185.4M578.7 197.8L604.7 197.7M601.5 197.7L603.5 201.5M578.7 213.1L604.7 214.1M601.5 214.0L603.3 217.9M578.7 229.4L604.7 229.7M601.5 229.7L603.4 233.5M578.7 245.0L604.7 245.9M601.5 245.8L603.4 249.6M578.7 261.4L604.7 261.3M601.5 261.3L603.5 265.1M578.7 277.5L604.7 276.9M601.5 277.0L603.6 280.8M578.7 293.4L604.7 292.9M601.5 292.9L603.6 296.7M578.7 308.5L604.7 309.6M601.5 309.4L603.3 313.3M578.7 324.7L604.7 325.2M601.5 325.1L603.4 329.0M578.7 341.1L604.7 340.6M601.5 340.7L603.6 344.5M578.7 357.3L604.7 356.2M601.5 356.3L603.6 360.1M578.7 372.7L604.7 372.7M601.5 372.7L603.5 376.5M578.7 388.4L604.7 388.8M601.5 388.7L603.4 392.5M578.7 404.6L604.7 404.4M601.5 404.4L603.5 408.2M578.7 420.6L604.7 420.1M601.5 420.2L603.6 423.9M578.7 436.1L604.7 436.5M601.5 436.4L603.4 440.2M578.7 451.7L604.7 452.7M601.5 452.5L603.3 456.4M578.7 468.4L604.7 467.8M601.5 467.8L603.6 471.6M578.7 484.5L604.7 483.5M601.5 483.6L603.6 487.3M578.7 500.1L604.7 499.7M601.5 499.7L603.5 503.5M578.7 515.9L604.7 515.7M601.5 515.7L603.5 519.5M578.7 531.5L604.7 531.9M601.5 531.8L603.4 535.7M578.7 547.9L604.7 547.3M601.5 547.3L603.6 551.1M578.7 563.2L604.7 563.8M601.5 563.8L603.4 567.6M622.3 109.8L601.0 94.8M603.7 96.7L604.2 92.4M622.1 125.9L601.2 110.5M603.8 112.4L604.4 108.2M623.3 128.4L600.0 139.8M602.9 138.4L599.4 135.9M598.7 149.3L624.6 150.7M621.4 150.5L623.2 154.4M598.7 165.5L624.6 166.4M621.4 166.3L623.3 170.1M598.7 181.5L624.6 182.2M621.4 182.1L623.3 185.9M598.7 198.0L624.6 197.4M621.4 197.5L623.5 201.2M598.7 213.9L624.6 213.3M621.4 213.4L623.5 217.1M598.7 229.2L624.6 229.8M621.4 229.7L623.3 233.6M598.6 245.7L624.6 245.2M621.4 245.3L623.5 249.0M598.7 260.8L624.6 261.8M621.4 261.7L623.3 265.6M598.6 277.2L624.6 277.2M621.4 277.2L623.4 281.0M598.7 293.5L624.6 292.8M621.4 292.9L623.5 296.6M598.7 309.4L624.6 308.7M621.4 308.8L623.5 312.6M598.6 325.0L624.6 324.9M621.4 324.9L623.4 328.7M598.6 340.7L624.6 341.0M624.6 341.0L628.6 348.7M598.7 356.2L624.6 357.3M624.6 357.3L628.4 365.0M598.7 373.1L624.6 372.3M624.6 372.3L628.9 379.7M598.6 388.7L624.6 388.4M624.6 388.4L628.8 396.0M598.7 404.8L624.6 404.1M624.6 404.1L628.9 411.6M598.7 419.8L624.6 420.9M624.6 420.9L628.4 428.7M598.7 436.7L624.6 435.9M624.6 435.9L628.9 443.3M598.7 452.7L624.6 451.7M624.6 451.7L629.0 459.1M598.7 468.6L624.6 467.6M624.6 467.6L629.0 475.0M598.6 484.1L624.6 483.9M624.6 483.9L628.8 491.4M598.7 499.4L624.6 500.3M624.6 500.3L628.4 508.1M598.7 515.4L624.6 516.2M624.6 516.2L628.4 523.9M598.6 531.4L624.6 532.0M624.6 532.0L628.5 539.6M598.7 547.0L624.6 548.2M624.6 548.2L628.3 555.9M598.7 563.0L624.6 564.0M624.6 564.0L628.4 571.7M639.0 112.9L624.1 91.7M626.0 94.3L627.9 90.5M639.0 128.9L624.1 107.6M624.1 107.6L628.0 99.9M619.6 139.2L643.5 129.0M640.5 130.3L643.9 133.0M618.7 151.8L644.4 148.2M644.4 148.2L649.5 155.2M618.6 166.4L644.6 165.5M641.3 165.6L643.5 169.3M618.6 181.6L644.6 182.0M641.3 182.0L643.3 185.8M618.6 197.9L644.6 197.6M641.3 197.6L643.4 201.4M618.6 213.8L644.6 213.5M641.3 213.5L643.4 217.3M618.6 229.7L644.6 229.3M641.3 229.4L643.4 233.2M618.6 245.8L644.6 245.1M641.3 245.1L643.4 248.9M618.6 261.9L644.6 260.8M641.3 260.9L643.5 264.6M618.6 277.5L644.6 277.0M641.3 277.1L643.4 280.8M618.6 293.3L644.6 293.0M641.3 293.0L643.4 296.8M618.6 308.5L644.6 309.6M644.6 309.6L648.3 317.3M618.6 325.4L644.6 324.5M644.6 324.5L648.8 332.0M618.6 340.3L644.6 341.4M644.6 341.4L648.3 349.1M618.6 357.1L644.6 356.4M644.6 356.4L648.8 363.9M618.6 372.8L644.6 372.5M644.6 372.5L648.7 380.0M618.6 388.2L644.6 388.9M644.6 388.9L648.4 396.6M618.6 404.1L644.6 404.8M644.6 404.8L648.4 412.5M618.6 420.4L644.6 420.3M644.6 420.3L648.6 427.9M618.6 436.8L644.6 435.8M644.6 435.8L648.9 443.2M618.6 452.2L644.6 452.1M644.6 452.1L648.6 459.7M618.6 468.2L644.6 467.9M644.6 467.9L648.7 475.5M618.6 483.5L644.6 484.5M644.6 484.5L648.3 492.2M618.6 500.2L644.6 499.5M644.6 499.5L648.8 507.0M618.6 515.9L644.6 515.6M644.6 515.6L648.7 523.2M618.6 531.2L644.6 532.1M644.6 532.1L648.3 539.9M618.6 548.1L644.6 547.1M644.6 547.1L648.9 554.5M618.6 563.6L644.6 563.4M644.6 563.4L648.7 571.0M641.5 93.9L661.4 110.7M659.0 108.6L658.1 112.8M644.0 107.6L658.9 128.9M658.9 128.9L655.0 136.5M642.5 143.5L660.5 124.8M660.5 124.8L668.8 127.1M639.4 154.9L663.5 145.1M663.5 145.1L670.1 150.7M638.8 168.6L664.2 163.2M664.2 163.2L669.7 169.8M638.5 181.3L664.5 182.3M661.2 182.2L663.1 186.0M638.5 198.0L664.5 197.4M661.2 197.5L663.3 201.3M638.5 213.3L664.5 213.9M661.2 213.8L663.2 217.7M638.5 229.1L664.5 230.0M661.2 229.9L663.1 233.7M638.5 245.6L664.5 245.2M661.2 245.3L663.3 249.1M638.5 261.6L664.5 261.1M661.2 261.1L663.3 264.9M638.5 276.7L664.5 277.8M664.5 277.8L668.2 285.5M638.5 293.0L664.5 293.3M664.5 293.3L668.4 300.9M638.5 309.3L664.5 308.8M664.5 308.8L668.7 316.3M638.5 324.7L664.5 325.2M664.5 325.2L668.4 332.9M638.5 341.1L664.5 340.6M664.5 340.6L668.6 348.2M638.5 357.0L664.5 356.5M664.5 356.5L668.7 364.0M638.5 373.2L664.5 372.1M664.5 372.1L668.8 379.5M638.5 388.3L664.5 388.9M664.5 388.9L668.3 396.5M638.5 404.0L664.5 404.9M664.5 404.9L668.2 412.7M638.5 420.2L664.5 420.5M664.5 420.5L668.4 428.2M638.5 435.8L664.5 436.8M664.5 436.8L668.2 444.5M638.5 452.7L664.5 451.6M664.5 451.6L668.8 459.1M638.5 468.4L664.5 467.8M664.5 467.8L668.7 475.3M638.5 484.0L664.5 484.0M664.5 484.0L668.5 491.5M638.5 499.4L664.5 500.4M664.5 500.4L668.2 508.2M638.5 515.3L664.5 516.3M664.5 516.3L668.2 524.1M638.5 531.8L664.5 531.6M664.5 531.6L668.6 539.1M638.5 547.9L664.5 547.3M664.5 547.3L668.7 554.8M638.5 563.6L664.5 563.4M664.5 563.4L668.6 571.0M658.4 102.3L684.4 102.3M681.2 102.3L683.2 106.1M658.4 117.7L684.4 118.7M681.1 118.6L683.0 122.4M658.4 134.5L684.4 133.7M681.2 133.8L683.3 137.6M658.4 149.7L684.4 150.4M681.2 150.3L683.1 154.1M658.4 165.6L684.4 166.2M681.2 166.1L683.1 170.0M658.4 181.5L684.4 182.2M681.2 182.1L683.1 185.9M658.4 197.4L684.4 198.0M681.2 198.0L683.1 201.8M658.4 213.5L684.4 213.7M684.4 213.7L688.4 221.4M658.4 229.7L684.4 229.3M684.4 229.3L688.6 236.9M658.4 245.6L684.4 245.2M684.4 245.2L688.6 252.8M658.4 261.5L684.4 261.2M684.4 261.2L688.5 268.7M658.4 276.9L684.4 277.6M684.4 277.6L688.3 285.2M658.4 293.6L684.4 292.7M684.4 292.7L688.7 300.1M658.4 309.4L684.4 308.7M684.4 308.7L688.6 316.2M658.4 324.7L684.4 325.2M684.4 325.2L688.3 332.9M658.4 341.1L684.4 340.6M684.4 340.6L688.6 348.1M658.4 357.2L684.4 356.3M684.4 356.3L688.7 363.7M658.4 373.2L684.4 372.1M684.4 372.1L688.7 379.6M658.4 388.5L684.4 388.6M684.4 388.6L688.4 396.2M658.4 404.7L684.4 404.3M684.4 404.3L688.6 411.8M658.4 419.8L684.4 420.9M684.4 420.9L688.1 428.7M658.4 435.8L684.4 436.7M684.4 436.7L688.2 444.4M658.4 451.6L684.4 452.7M684.4 452.7L688.1 460.5M658.4 468.3L684.4 467.8M684.4 467.8L688.6 475.3M658.4 484.5L684.4 483.5M684.4 483.5L688.7 491.0M658.4 500.3L684.4 499.4M684.4 499.4L688.7 506.9M658.4 515.8L684.4 515.8M684.4 515.8L688.4 523.4M658.4 531.5L684.4 531.9M684.4 531.9L688.3 539.6M658.4 547.7L684.4 547.5M684.4 547.5L688.5 555.1M658.4 563.8L684.4 563.2M684.4 563.2L688.6 570.7M678.3 101.9L704.3 102.7M701.1 102.6L703.0 106.5M678.4 117.3L704.3 119.1M701.1 118.9L702.8 122.8M678.3 133.5L704.3 134.7M701.1 134.6L702.9 138.4M678.4 148.8L704.3 151.2M701.0 150.9L702.7 154.9M678.3 165.7L704.3 166.2M701.1 166.1L703.0 169.9M678.3 182.0L704.3 181.7M701.1 181.7L703.1 185.5M678.3 197.5L704.3 198.0M701.1 197.9L703.0 201.8M678.3 214.0L704.3 213.3M704.3 213.3L708.6 220.8M678.3 229.8L704.3 229.2M704.3 229.2L708.5 236.7M678.3 245.7L704.3 245.1M704.3 245.1L708.5 252.6M678.3 261.7L704.3 260.9M704.3 260.9L708.6 268.4M678.3 276.8L704.3 277.7M704.3 277.7L708.1 285.4M678.3 293.1L704.3 293.2M704.3 293.2L708.3 300.9M678.3 309.2L704.3 308.8M704.3 308.8L708.5 316.4M701.1 308.9L703.1 312.7M678.3 325.1L704.3 324.8M704.3 324.8L708.4 332.4M701.1 324.9L703.1 328.6M678.3 340.3L704.3 341.4M704.3 341.4L708.0 349.2M701.1 341.3L702.9 345.2M678.3 356.7L704.3 356.8M704.3 356.8L708.4 364.4M701.1 356.8L703.1 360.6M678.3 373.0L704.3 372.4M704.3 372.4L708.5 379.9M701.1 372.4L703.2 376.2M678.3 388.2L704.3 388.9M704.3 388.9L708.2 396.6M701.1 388.8L703.0 392.7M678.3 404.3L704.3 404.6M704.3 404.6L708.3 412.3M701.1 404.6L703.0 408.4M678.3 419.8L704.3 420.9M704.3 420.9L708.0 428.7M701.1 420.8L702.9 424.7M678.3 436.7L704.3 435.8M704.3 435.8L708.6 443.3M701.1 435.9L703.2 439.7M678.3 452.2L704.3 452.1M704.3 452.1L708.4 459.7M701.1 452.2L703.1 455.9M678.3 467.7L704.3 468.4M704.3 468.4L708.1 476.1M701.1 468.4L703.0 472.2M678.3 483.6L704.3 484.4M704.3 484.4L708.1 492.1M701.1 484.3L703.0 488.1M678.3 499.4L704.3 500.4M704.3 500.4L708.1 508.1M701.1 500.2L702.9 504.1M678.3 516.3L704.3 515.3M704.3 515.3L708.7 522.7M701.1 515.4L703.2 519.1M678.3 531.9L704.3 531.5M704.3 531.5L708.5 539.0M701.1 531.5L703.2 535.3M678.3 548.0L704.3 547.2M704.3 547.2L708.6 554.6M701.1 547.3L703.2 551.0M678.3 563.9L704.3 563.1M704.3 563.1L708.6 570.6M701.1 563.2L703.2 567.0M698.2 133.9L724.2 134.3M698.2 150.2L724.2 149.8M698.2 165.7L724.2 166.1M698.2 181.9L724.2 181.8M721.0 181.8L723.0 185.6M698.2 198.0L724.2 197.4M721.0 197.5L723.1 201.3M698.2 213.3L724.2 213.9M724.2 213.9L728.1 221.6M698.3 229.0L724.2 230.0M724.2 230.0L728.0 237.8M698.3 245.9L724.2 245.0M724.2 245.0L728.5 252.4M698.2 261.2L724.2 261.4M724.2 261.4L728.2 269.1M698.2 277.1L724.2 277.4M724.2 277.4L728.2 285.0M698.2 293.5L724.2 292.8M724.2 292.8L728.5 300.3M698.2 309.2L724.2 308.9M724.2 308.9L728.4 316.4M721.0 308.9L723.1 312.7M698.3 325.4L724.2 324.5M724.2 324.5L728.5 332.0M721.0 324.6L723.1 328.4M698.2 341.2L724.2 340.5M724.2 340.5L728.5 348.0M721.0 340.6L723.1 344.3M698.2 357.0L724.2 356.5M724.2 356.5L728.4 364.0M721.0 356.5L723.1 360.3M698.2 372.5L724.2 372.8M724.2 372.8L728.2 380.4M721.0 372.7L723.0 376.6M698.2 388.4L724.2 388.7M724.2 388.7L728.2 396.4M721.0 388.7L723.0 392.5M698.2 404.8L724.2 404.1M724.2 404.1L728.5 411.6M721.0 404.2L723.1 408.0M698.3 420.9L724.2 419.8M724.2 419.8L728.6 427.2M721.0 420.0L723.2 423.7M698.2 436.5L724.2 436.1M724.2 436.1L728.4 443.6M721.0 436.1L723.1 439.9M698.2 452.0L724.2 452.4M724.2 452.4L728.2 460.0M721.0 452.3L723.0 456.2M698.2 468.4L724.2 467.7M724.2 467.7L728.5 475.2M721.0 467.8L723.1 471.6M698.2 484.2L724.2 483.8M724.2 483.8L728.4 491.3M721.0 483.8L723.1 487.6M698.2 500.2L724.2 499.5M724.2 499.5L728.5 507.0M721.0 499.6L723.1 503.4M698.2 515.5L724.2 516.1M724.2 516.1L728.1 523.8M721.0 516.0L722.9 519.9M698.2 531.6L724.2 531.7M724.2 531.7L728.2 539.4M721.0 531.7L723.0 535.5M698.3 548.1L724.2 547.1M724.2 547.1L728.6 554.5M721.0 547.2L723.1 550.9M698.3 564.0L724.2 563.0M724.2 563.0L728.5 570.5M721.0 563.2L723.1 566.9M744.1 103.0L718.2 101.6M744.1 118.9L718.2 117.5M744.2 133.7L718.2 134.6M744.2 150.5L718.2 149.6M744.2 165.9L718.2 165.9M718.2 181.6L744.2 182.0M740.9 182.0L742.9 185.8M718.2 197.8L744.2 197.6M740.9 197.6L743.0 201.4M718.2 213.9L744.2 213.4M744.2 213.4L748.3 220.9M718.2 229.7L744.2 229.3M744.2 229.3L748.3 236.8M718.2 244.9L744.2 245.9M744.2 245.9L747.9 253.7M718.2 261.5L744.2 261.1M744.2 261.1L748.3 268.6M718.2 277.2L744.2 277.3M744.2 277.3L748.2 284.9M718.2 293.3L744.2 293.0M744.2 293.0L748.3 300.5M718.2 309.1L744.2 309.0M740.9 309.0L743.0 312.8M718.2 324.5L744.2 325.4M740.9 325.3L742.8 329.1M718.2 340.3L744.2 341.4M740.9 341.3L742.8 345.2M718.2 356.9L744.2 356.6M740.9 356.6L743.0 360.4M718.2 373.0L744.2 372.3M740.9 372.4L743.0 376.1M718.2 388.3L744.2 388.8M740.9 388.8L742.9 392.6M718.2 404.8L744.2 404.1M740.9 404.2L743.0 408.0M718.2 420.9L744.2 419.8M740.9 419.9L743.1 423.7M718.2 435.8L744.2 436.7M740.9 436.6L742.8 440.5M718.2 452.3L744.2 452.1M740.9 452.1L743.0 455.9M718.2 467.7L744.2 468.4M740.9 468.4L742.8 472.2M718.2 484.1L744.2 483.9M740.9 483.9L743.0 487.7M718.2 499.5L744.2 500.3M740.9 500.2L742.8 504.1M718.2 515.8L744.2 515.7M740.9 515.8L742.9 519.5M718.2 532.1L744.2 531.3M740.9 531.4L743.0 535.1M718.2 548.1L744.2 547.0M740.9 547.2L743.1 550.9M718.2 563.4L744.2 563.6M740.9 563.5L742.9 567.3M738.1 101.2L764.0 103.4M760.8 103.1L762.5 107.1M738.3 115.7L763.8 120.7M760.7 120.1L761.9 124.2M738.2 132.7L764.0 135.5M760.8 135.1L762.4 139.1M738.1 149.3L764.1 150.7M760.8 150.5L762.6 154.4M738.1 165.5L764.1 166.4M760.8 166.3L762.7 170.1M738.1 181.8L764.1 181.8M760.8 181.8L762.9 185.6M738.1 198.1L764.1 197.3M760.8 197.4L763.0 201.2M738.1 213.9L764.1 213.4M760.8 213.4L762.9 217.2M738.1 229.5L764.1 229.6M760.8 229.5L762.8 233.3M738.1 244.9L764.1 245.9M760.8 245.8L762.7 249.7M738.1 261.8L764.1 260.9M760.8 261.0L763.0 264.7M738.1 277.2L764.1 277.2M760.8 277.2L762.9 281.0M738.1 292.8L764.1 293.5M760.8 293.4L762.7 297.2M738.1 308.5L764.1 309.6M760.8 309.4L762.7 313.3M738.1 325.3L764.1 324.6M760.8 324.7L762.9 328.4M738.1 341.3L764.1 340.4M760.8 340.5L763.0 344.3M738.1 356.3L764.1 357.3M760.8 357.1L762.7 361.0M738.1 372.1L764.1 373.2M760.8 373.1L762.7 376.9M738.1 388.6L764.1 388.5M760.8 388.5L762.9 392.3M738.1 405.0L764.1 404.0M760.8 404.1L763.0 407.8M738.1 419.9L764.1 420.9M760.8 420.7L762.7 424.6M738.1 436.4L764.1 436.1M760.8 436.2L762.9 440.0M738.1 451.7L764.1 452.6M760.8 452.5L762.7 456.4M738.1 467.9L764.1 468.2M760.8 468.2L762.8 472.0M738.1 483.6L764.1 484.4M760.8 484.3L762.7 488.1M738.1 500.3L764.1 499.5M760.8 499.6L763.0 503.3M738.1 515.5L764.1 516.1M760.8 516.0L762.8 519.9M738.1 532.0L764.1 531.4M760.8 531.5L762.9 535.2M738.1 547.7L764.1 547.5M760.8 547.5L762.9 551.3M738.1 563.1L764.1 563.9M760.8 563.8L762.7 567.7M784.0 103.4L758.1 101.2M761.3 101.5L759.6 97.5M767.6 105.6L774.4 130.8M773.5 127.6L770.4 130.6M783.5 137.6L758.5 130.6M783.9 151.4L758.1 148.7M784.0 166.4L758.0 165.5M758.0 181.9L784.0 181.7M780.8 181.7L782.8 185.5M758.0 198.1L784.0 197.3M780.7 197.4L782.9 201.1M758.0 213.9L784.0 213.3M780.8 213.4L782.9 217.2M758.0 229.3L784.0 229.8M780.8 229.7L782.7 233.6M758.0 245.0L784.0 245.9M780.7 245.8L782.6 249.6M758.0 261.9L784.0 260.8M780.7 260.9L782.9 264.7M758.0 277.2L784.0 277.3M780.8 277.3L782.8 281.1M758.0 292.8L784.0 293.4M780.8 293.4L782.7 297.2M758.0 309.6L784.0 308.5M780.7 308.7L782.9 312.4M758.0 324.6L784.0 325.3M780.7 325.2L782.7 329.1M758.0 341.3L784.0 340.4M780.7 340.5L782.9 344.3M758.0 356.6L784.0 356.9M780.8 356.8L782.7 360.7M758.0 372.6L784.0 372.7M780.8 372.7L782.8 376.5M758.0 388.4L784.0 388.7M780.8 388.7L782.7 392.5M758.0 404.7L784.0 404.2M780.8 404.3L782.8 408.1M758.0 420.5L784.0 420.3M780.8 420.3L782.8 424.1M758.0 436.2L784.0 436.4M780.8 436.3L782.7 440.2M758.0 452.3L784.0 452.1M780.8 452.1L782.8 455.9M758.0 467.9L784.0 468.3M780.8 468.2L782.7 472.0M758.0 484.0L784.0 483.9M784.0 483.9L788.1 491.5M758.0 500.0L784.0 499.8M784.0 499.8L788.1 507.4M758.0 516.3L784.0 515.2M784.0 515.2L788.3 522.7M758.0 531.6L784.0 531.8M784.0 531.8L788.0 539.5M758.0 547.6L784.0 547.6M784.0 547.6L788.0 555.2M758.0 563.8L784.0 563.2M784.0 563.2L788.2 570.7M803.9 103.1L777.9 101.5M781.2 101.7L779.4 97.8M803.9 117.3L778.0 119.1M781.2 118.9L778.9 115.2M803.9 133.0L778.0 135.2M781.2 134.9L778.9 131.3M803.9 149.8L777.9 150.2M781.2 150.2L779.1 146.4M803.9 165.8L777.9 166.1M781.2 166.0L779.1 162.3M803.9 180.8L778.0 182.9M781.2 182.6L778.9 179.0M803.9 196.8L778.0 198.7M781.2 198.4L778.9 194.8M803.9 213.9L777.9 213.4M781.2 213.4L779.2 209.6M803.9 229.8L777.9 229.2M781.2 229.3L779.2 225.4M803.9 245.4L777.9 245.4M781.2 245.4L779.2 241.6M803.9 260.8L777.9 261.8M781.2 261.7L779.0 258.0M803.9 277.2L777.9 277.2M781.2 277.2L779.2 273.4M803.9 293.0L777.9 293.3M781.2 293.2L779.1 289.5M803.9 309.6L777.9 308.5M781.2 308.7L779.3 304.8M803.9 324.5L777.9 325.4M781.2 325.3L779.0 321.5M803.9 341.3L777.9 340.4M781.2 340.5L779.3 336.7M803.9 357.3L777.9 356.2M781.2 356.3L779.3 352.5M803.9 372.9L777.9 372.4M781.2 372.5L779.2 368.6M803.9 388.9L777.9 388.2M781.2 388.3L779.3 384.4M803.9 404.1L777.9 404.8M781.2 404.7L779.1 401.0M803.9 420.9L777.9 419.8M781.2 420.0L779.3 416.1M803.9 436.3L777.9 436.3M781.2 436.3L779.2 432.5M803.9 452.7L777.9 451.7M781.2 451.8L779.3 447.9M803.9 468.6L777.9 467.6M781.2 467.7L779.3 463.9M777.9 484.4L803.9 483.6M800.7 483.7L802.8 487.4M777.9 499.6L803.9 500.2M800.7 500.1L802.6 504.0M777.9 515.3L803.9 516.3M800.7 516.2L802.5 520.0M777.9 532.2L803.9 531.2M800.7 531.3L802.8 535.0M783.8 558.5L798.0 536.7M796.2 539.4L800.5 539.8M779.1 569.0L802.7 558.0M799.8 559.4L803.2 562.0M823.8 103.4L797.9 101.2M801.1 101.5L799.4 97.5M823.8 119.1L797.9 117.3M801.1 117.6L799.3 113.6M823.8 134.1L797.8 134.1M801.1 134.1L799.1 130.3M823.8 149.2L797.9 150.8M801.1 150.6L798.9 146.9M823.8 165.9L797.8 165.9M801.1 165.9L799.1 162.1M823.8 180.8L797.9 182.9M801.1 182.6L798.8 179.0M823.8 197.0L797.9 198.5M801.1 198.3L798.9 194.6M823.8 214.1L797.9 213.1M801.1 213.3L799.2 209.4M823.8 229.7L797.8 229.3M801.1 229.4L799.1 225.5M823.8 245.9L797.8 245.0M801.1 245.1L799.2 241.2M823.8 261.0L797.8 261.7M801.1 261.6L799.0 257.9M823.8 277.6L797.8 276.9M801.1 277.0L799.2 273.1M823.8 292.7L797.8 293.6M801.1 293.5L799.0 289.7M823.8 309.1L797.8 309.0M801.1 309.0L799.1 305.2M823.8 325.1L797.8 324.8M801.1 324.8L799.1 321.0M823.8 340.7L797.8 341.0M823.8 357.2L797.8 356.3M823.8 372.7L797.8 372.6M823.8 388.7L797.8 388.5M823.8 404.9L797.8 404.0M823.8 419.9L797.8 420.8M823.8 436.8L797.9 435.7M823.8 452.3L797.8 452.0M823.8 468.0L797.8 468.2M797.8 483.6L823.8 484.3M820.6 484.2L822.5 488.1M797.8 500.2L823.8 499.6M820.6 499.7L822.7 503.4M797.9 515.2L823.8 516.3M820.6 516.2L822.4 520.1M797.8 531.6L823.8 531.8M820.6 531.8L822.6 535.6M797.8 547.8L823.8 547.4M820.6 547.5L822.7 551.2M797.8 563.2L823.8 563.8M820.6 563.7L822.5 567.6M843.7 101.4L817.8 103.2M821.0 103.0L818.8 99.3M843.7 117.0L817.8 119.4M821.1 119.1L818.7 115.5M843.7 133.4L817.8 134.8M821.0 134.6L818.8 130.9M843.7 151.3L817.8 148.7M821.1 149.0L819.4 145.0M843.8 166.4L817.8 165.5M821.0 165.6L819.1 161.7M843.7 180.7L817.8 182.9M821.0 182.7L818.7 179.1M843.7 196.9L817.8 198.5M821.0 198.3L818.8 194.7M843.8 213.8L817.8 213.5M821.0 213.5L819.0 209.7M843.8 229.5L817.8 229.6M821.0 229.6L819.0 225.8M843.8 245.4L817.8 245.4M821.0 245.4L819.0 241.6M843.8 261.8L817.8 260.9M821.0 261.0L819.1 257.1M843.8 276.8L817.8 277.7M821.0 277.6L818.9 273.8M843.8 292.8L817.8 293.5M821.0 293.4L818.9 289.6M843.8 309.2L817.8 308.9M821.0 308.9L819.0 305.1M843.7 324.4L817.8 325.5M821.0 325.4L818.8 321.6M843.7 340.3L817.8 341.4M821.0 341.3L818.8 337.6M843.8 356.6L817.8 356.9M821.0 356.9L818.9 353.1M843.8 372.2L817.8 373.1M821.0 373.0L818.9 369.3M843.8 388.4L817.8 388.7M821.0 388.7L818.9 384.9M843.8 404.2L817.8 404.8M821.0 404.7L818.9 401.0M843.8 420.5L817.8 420.3M821.0 420.3L819.0 416.5M843.8 436.4L817.8 436.2M821.0 436.2L819.0 432.4M843.8 451.8L817.8 452.5M821.0 452.4L818.9 448.7M843.8 468.2L817.8 467.9M821.0 468.0L819.0 464.2M817.8 484.0L843.8 484.0M840.5 484.0L842.5 487.8M817.8 500.3L843.8 499.5M840.5 499.6L842.6 503.3M817.8 515.3L843.8 516.3M840.5 516.2L842.4 520.0M817.8 532.0L843.8 531.4M840.5 531.5L842.6 535.2M817.8 548.0L843.8 547.2M840.5 547.3L842.6 551.0M817.8 564.0L843.8 563.0M840.5 563.2L842.7 566.9M863.6 103.3L837.7 101.3M841.0 101.5L839.2 97.6M863.7 117.9L837.7 118.5M840.9 118.4L838.8 114.6M863.6 132.8L837.7 135.4M841.0 135.1L838.6 131.5M863.7 150.2L837.7 149.8M840.9 149.9L839.0 146.1M863.7 166.3L837.7 165.5M840.9 165.6L839.0 161.8M863.6 182.8L837.7 180.8M841.0 181.1L839.2 177.1M863.7 197.2L837.7 198.3M840.9 198.1L838.8 194.4M863.7 214.1L837.7 213.2M840.9 213.3L839.1 209.4M863.7 229.0L837.7 230.0M840.9 229.9L838.8 226.2M863.7 245.5L837.7 245.4M840.9 245.4L838.9 241.6M863.7 261.2L837.7 261.4M840.9 261.4L838.9 257.6M863.7 276.9L837.7 277.5M840.9 277.5L838.8 273.7M863.7 292.6L837.7 293.6M840.9 293.5L838.8 289.8M863.7 309.4L837.7 308.7M840.9 308.8L839.0 305.0M863.7 324.4L837.7 325.5M840.9 325.4L838.8 321.7M863.7 340.9L837.7 340.8M840.9 340.8L838.9 337.0M863.7 357.3L837.7 356.3M840.9 356.4L839.1 352.5M863.7 372.3L837.7 373.1M840.9 373.0L838.8 369.2M863.7 388.2L837.7 388.9M840.9 388.8L838.8 385.1M863.7 404.6L837.7 404.3M840.9 404.4L838.9 400.6M863.7 420.4L837.7 420.4M840.9 420.4L838.9 416.6M863.7 436.4L837.7 436.1M840.9 436.2L839.0 432.3M863.7 452.5L837.7 451.8M840.9 451.9L839.0 448.1M863.7 467.7L837.7 468.4M840.9 468.4L838.8 464.6M837.7 484.2L863.7 483.8M860.4 483.8L862.5 487.6M837.7 500.1L863.7 499.7M860.4 499.7L862.5 503.5M837.7 516.3L863.7 515.3M860.4 515.4L862.6 519.1M837.7 531.3L863.7 532.1M860.4 532.0L862.3 535.9M837.7 547.3L863.7 547.9M860.4 547.8L862.4 551.7M837.7 563.3L863.7 563.7M860.4 563.7L862.4 567.5M883.6 103.2L857.6 101.4M860.9 101.6L859.1 97.7M883.6 118.1L857.6 118.3M860.9 118.3L858.8 114.5M883.6 134.0L857.6 134.2M860.9 134.2L858.8 130.4M883.6 148.9L857.6 151.1M860.9 150.8L858.6 147.2M883.5 164.7L857.7 167.2M860.9 166.9L858.5 163.3M883.6 182.4L857.6 181.3M860.9 181.4L859.0 177.5M883.6 198.5L857.6 196.9M860.9 197.1L859.1 193.2M883.6 213.9L857.6 213.4M860.9 213.4L858.9 209.6M883.6 229.3L857.6 229.8M860.9 229.7L858.8 226.0M883.6 245.5L857.6 245.4M860.9 245.4L858.8 241.6M883.6 261.3L857.6 261.4M860.9 261.4L858.8 257.6M883.6 277.6L857.6 276.9M860.9 277.0L858.9 273.1M883.6 293.2L857.6 293.1M860.9 293.1L858.8 289.3M883.6 308.8L857.6 309.3M860.9 309.2L858.8 305.5M883.6 325.1L857.6 324.8M860.9 324.8L858.9 321.0M883.6 341.4L857.6 340.3M860.9 340.5L859.0 336.6M883.6 356.4L857.6 357.1M860.9 357.0L858.7 353.3M883.6 373.1L857.6 372.2M860.9 372.3L859.0 368.5M883.6 388.0L857.6 389.1M860.9 389.0L858.7 385.3M883.6 404.2L857.6 404.7M860.9 404.7L858.8 400.9M883.6 420.1L857.6 420.7M860.9 420.6L858.7 416.8M883.6 436.5L857.6 436.0M860.9 436.1L858.9 432.2M883.6 452.7L857.6 451.7M860.9 451.8L859.0 447.9M883.6 468.4L857.6 467.8M860.9 467.9L858.9 464.0M857.6 484.2L883.6 483.8M880.3 483.8L882.4 487.6M857.6 499.5L883.6 500.3M880.3 500.2L882.2 504.1M883.3 518.5L857.9 513.1M882.5 537.0L858.7 526.4M883.0 551.4L858.2 543.8M883.5 565.3L857.7 561.7" fill="none" stroke="#4b0082" stroke-width="0.62" stroke-linecap="butt"/>
<circle cx="711.2" cy="102.3" r="3.3" fill="none" stroke="#4b0082" stroke-width="0.7"/>
<circle cx="711.2" cy="118.2" r="3.3" fill="none" stroke="#4b0082" stroke-width="0.7"/>
</g>
<path d="M193.34 563.5V547.5M233.18 563.5V547.5M273.02 563.5V547.5M312.86 563.5V547.5M352.69 563.5V547.5M392.53 563.5V547.5M432.37 563.5V547.5M472.21 563.5V547.5M512.05 563.5V547.5M551.89 563.5V547.5M591.73 563.5V547.5M631.57 563.5V547.5M671.41 563.5V547.5M711.24 563.5V547.5M751.08 563.5V547.5M790.92 563.5V547.5M830.76 563.5V547.5" stroke="#4b0082" stroke-width="1.25" fill="none"/>
<path d="M153.5 118.20H177.8M153.5 134.11H177.8M153.5 150.01H177.8M153.5 165.91H177.8M153.5 181.82H177.8M153.5 197.72H177.8M153.5 213.62H177.8M153.5 229.53H177.8M153.5 245.43H177.8M153.5 261.33H177.8M153.5 277.24H177.8M153.5 293.14H177.8M153.5 309.04H177.8M153.5 324.95H177.8M153.5 340.85H177.8M153.5 356.76H177.8M153.5 372.66H177.8M153.5 388.56H177.8M153.5 404.47H177.8M153.5 420.37H177.8M153.5 436.27H177.8M153.5 452.18H177.8M153.5 468.08H177.8M153.5 483.98H177.8M153.5 499.89H177.8M153.5 515.79H177.8M153.5 531.69H177.8M153.5 547.60H177.8" stroke="#4b0082" stroke-width="1.1" fill="none"/>
<rect x="153.5" y="102.3" width="717.1" height="461.2" fill="none" stroke="#4b0082" stroke-width="1.25"/>
<text x="145.6" y="106.2" font-size="10.7" text-anchor="end" fill="#4b0082">1500</text>
<text x="145.6" y="122.1" font-size="10.7" text-anchor="end" fill="#4b0082">1450</text>
<text x="145.6" y="138.0" font-size="10.7" text-anchor="end" fill="#4b0082">1400</text>
<text x="145.6" y="153.9" font-size="10.7" text-anchor="end" fill="#4b0082">1350</text>
<text x="145.6" y="169.8" font-size="10.7" text-anchor="end" fill="#4b0082">1300</text>
<text x="145.6" y="185.7" font-size="10.7" text-anchor="end" fill="#4b0082">1250</text>
<text x="145.6" y="201.6" font-size="10.7" text-anchor="end" fill="#4b0082">1200</text>
<text x="145.6" y="217.5" font-size="10.7" text-anchor="end" fill="#4b0082">1150</text>
<text x="145.6" y="233.4" font-size="10.7" text-anchor="end" fill="#4b0082">1100</text>
<text x="145.6" y="249.3" font-size="10.7" text-anchor="end" fill="#4b0082">1050</text>
<text x="145.6" y="265.2" font-size="10.7" text-anchor="end" fill="#4b0082">1000</text>
<text x="145.6" y="281.1" font-size="10.7" text-anchor="end" fill="#4b0082">950</text>
<text x="145.6" y="297.0" font-size="10.7" text-anchor="end" fill="#4b0082">900</text>
<text x="145.6" y="312.9" font-size="10.7" text-anchor="end" fill="#4b0082">850</text>
<text x="145.6" y="328.8" font-size="10.7" text-anchor="end" fill="#4b0082">800</text>
<text x="145.6" y="344.8" font-size="10.7" text-anchor="end" fill="#4b0082">750</text>
<text x="145.6" y="360.7" font-size="10.7" text-anchor="end" fill="#4b0082">700</text>
<text x="145.6" y="376.6" font-size="10.7" text-anchor="end" fill="#4b0082">650</text>
<text x="145.6" y="392.5" font-size="10.7" text-anchor="end" fill="#4b0082">600</text>
<text x="145.6" y="408.4" font-size="10.7" text-anchor="end" fill="#4b0082">550</text>
<text x="145.6" y="424.3" font-size="10.7" text-anchor="end" fill="#4b0082">500</text>
<text x="145.6" y="440.2" font-size="10.7" text-anchor="end" fill="#4b0082">450</text>
<text x="145.6" y="456.1" font-size="10.7" text-anchor="end" fill="#4b0082">400</text>
<text x="145.6" y="472.0" font-size="10.7" text-anchor="end" fill="#4b0082">350</text>
<text x="145.6" y="487.9" font-size="10.7" text-anchor="end" fill="#4b0082">300</text>
<text x="145.6" y="503.8" font-size="10.7" text-anchor="end" fill="#4b0082">250</text>
<text x="145.6" y="519.7" font-size="10.7" text-anchor="end" fill="#4b0082">200</text>
<text x="145.6" y="535.6" font-size="10.7" text-anchor="end" fill="#4b0082">150</text>
<text x="145.6" y="551.5" font-size="10.7" text-anchor="end" fill="#4b0082">100</text>
<text x="145.6" y="567.4" font-size="10.7" text-anchor="end" fill="#4b0082">50</text>
<text transform="translate(156.3 585.2) rotate(-45)" font-size="11.5" text-anchor="middle" fill="#4b0082" y="4.0">01_00</text>
<text transform="translate(196.1 585.2) rotate(-45)" font-size="11.5" text-anchor="middle" fill="#4b0082" y="4.0">01_12</text>
<text transform="translate(236.0 585.2) rotate(-45)" font-size="11.5" text-anchor="middle" fill="#4b0082" y="4.0">02_00</text>
<text transform="translate(275.8 585.2) rotate(-45)" font-size="11.5" text-anchor="middle" fill="#4b0082" y="4.0">02_12</text>
<text transform="translate(315.7 585.2) rotate(-45)" font-size="11.5" text-anchor="middle" fill="#4b0082" y="4.0">03_00</text>
<text transform="translate(355.5 585.2) rotate(-45)" font-size="11.5" text-anchor="middle" fill="#4b0082" y="4.0">03_12</text>
<text transform="translate(395.3 585.2) rotate(-45)" font-size="11.5" text-anchor="middle" fill="#4b0082" y="4.0">04_00</text>
<text transform="translate(435.2 585.2) rotate(-45)" font-size="11.5" text-anchor="middle" fill="#4b0082" y="4.0">04_12</text>
<text transform="translate(475.0 585.2) rotate(-45)" font-size="11.5" text-anchor="middle" fill="#4b0082" y="4.0">05_00</text>
<text transform="translate(514.8 585.2) rotate(-45)" font-size="11.5" text-anchor="middle" fill="#4b0082" y="4.0">05_12</text>
<text transform="translate(554.7 585.2) rotate(-45)" font-size="11.5" text-anchor="middle" fill="#4b0082" y="4.0">06_00</text>
<text transform="translate(594.5 585.2) rotate(-45)" font-size="11.5" text-anchor="middle" fill="#4b0082" y="4.0">06_12</text>
<text transform="translate(634.4 585.2) rotate(-45)" font-size="11.5" text-anchor="middle" fill="#4b0082" y="4.0">07_00</text>
<text transform="translate(674.2 585.2) rotate(-45)" font-size="11.5" text-anchor="middle" fill="#4b0082" y="4.0">07_12</text>
<text transform="translate(714.0 585.2) rotate(-45)" font-size="11.5" text-anchor="middle" fill="#4b0082" y="4.0">08_00</text>
<text transform="translate(753.9 585.2) rotate(-45)" font-size="11.5" text-anchor="middle" fill="#4b0082" y="4.0">08_12</text>
<text transform="translate(793.7 585.2) rotate(-45)" font-size="11.5" text-anchor="middle" fill="#4b0082" y="4.0">09_00</text>
<text transform="translate(833.6 585.2) rotate(-45)" font-size="11.5" text-anchor="middle" fill="#4b0082" y="4.0">09_12</text>
<text transform="translate(873.4 585.2) rotate(-45)" font-size="11.5" text-anchor="middle" fill="#4b0082" y="4.0">10_00</text>
<text x="511.3" y="87.2" font-size="25.3" text-anchor="middle" fill="#4b0082">Kazhydromet for Kyzylorda</text>
<rect x="876.1" y="103.90" width="11.7" height="21.10" fill="#dc0000"/>
<rect x="876.1" y="125.00" width="11.7" height="20.00" fill="#ff2800"/>
<rect x="876.1" y="145.00" width="11.7" height="21.00" fill="#ff5500"/>
<rect x="876.1" y="166.00" width="11.7" height="21.00" fill="#ff7b00"/>
<rect x="876.1" y="187.00" width="11.7" height="21.00" fill="#ffa000"/>
<rect x="876.1" y="208.00" width="11.7" height="20.00" fill="#ffc800"/>
<rect x="876.1" y="228.00" width="11.7" height="21.00" fill="#ffc800"/>
<rect x="876.1" y="249.00" width="11.7" height="21.00" fill="#ffd83a"/>
<rect x="876.1" y="270.00" width="11.7" height="21.00" fill="#fff064"/>
<rect x="876.1" y="291.00" width="11.7" height="21.00" fill="#ffffb2"/>
<rect x="876.1" y="312.00" width="11.7" height="20.00" fill="#ffffdc"/>
<rect x="876.1" y="332.00" width="11.7" height="21.00" fill="#f5faff"/>
<rect x="876.1" y="353.00" width="11.7" height="21.00" fill="#dcf4ff"/>
<rect x="876.1" y="374.00" width="11.7" height="21.00" fill="#b4e4ff"/>
<rect x="876.1" y="395.00" width="11.7" height="20.00" fill="#78cdff"/>
<rect x="876.1" y="415.00" width="11.7" height="21.00" fill="#3caeff"/>
<rect x="876.1" y="436.00" width="11.7" height="21.00" fill="#3caeff"/>
<rect x="876.1" y="457.00" width="11.7" height="21.00" fill="#0078ff"/>
<rect x="876.1" y="478.00" width="11.7" height="20.00" fill="#0032ff"/>
<rect x="876.1" y="498.00" width="11.7" height="21.00" fill="#0000dc"/>
<rect x="876.1" y="519.00" width="11.7" height="21.00" fill="#5a00aa"/>
<rect x="876.1" y="540.00" width="11.7" height="20.70" fill="#550096"/>
<text x="890.6" y="130.7" font-size="15.3" fill="#4b0082">40</text>
<text x="890.6" y="151.4" font-size="15.3" fill="#4b0082">36</text>
<text x="890.6" y="172.2" font-size="15.3" fill="#4b0082">32</text>
<text x="890.6" y="193.0" font-size="15.3" fill="#4b0082">28</text>
<text x="890.6" y="213.7" font-size="15.3" fill="#4b0082">24</text>
<text x="890.6" y="234.5" font-size="15.3" fill="#4b0082">20</text>
<text x="890.6" y="255.2" font-size="15.3" fill="#4b0082">16</text>
<text x="890.6" y="276.0" font-size="15.3" fill="#4b0082">12</text>
<text x="890.6" y="296.8" font-size="15.3" fill="#4b0082">8</text>
<text x="890.6" y="317.5" font-size="15.3" fill="#4b0082">4</text>
<text x="890.6" y="338.3" font-size="15.3" fill="#4b0082">0</text>
<text x="890.6" y="359.1" font-size="15.3" fill="#4b0082">-4</text>
<text x="890.6" y="379.8" font-size="15.3" fill="#4b0082">-8</text>
<text x="890.6" y="400.6" font-size="15.3" fill="#4b0082">-12</text>
<text x="890.6" y="421.4" font-size="15.3" fill="#4b0082">-16</text>
<text x="890.6" y="442.1" font-size="15.3" fill="#4b0082">-20</text>
<text x="890.6" y="462.9" font-size="15.3" fill="#4b0082">-24</text>
<text x="890.6" y="483.6" font-size="15.3" fill="#4b0082">-28</text>
<text x="890.6" y="504.4" font-size="15.3" fill="#4b0082">-32</text>
<text x="890.6" y="525.2" font-size="15.3" fill="#4b0082">-36</text>
<text x="890.6" y="545.9" font-size="15.3" fill="#4b0082">-40</text>
<path d="M153.3 680.23H870.5M153.3 694.86H870.5M153.3 709.49H870.5M153.3 724.11H870.5M153.3 738.74H870.5M153.3 753.37H870.5M193.14 665.6V768.0M232.99 665.6V768.0M272.83 665.6V768.0M312.68 665.6V768.0M352.52 665.6V768.0M392.37 665.6V768.0M432.21 665.6V768.0M472.06 665.6V768.0M511.90 665.6V768.0M551.74 665.6V768.0M591.59 665.6V768.0M631.43 665.6V768.0M671.28 665.6V768.0M711.12 665.6V768.0M750.97 665.6V768.0M790.81 665.6V768.0M830.66 665.6V768.0" fill="none" stroke="#8a5cb4" stroke-width="0.9" stroke-dasharray="3.9 5.3"/>
<path d="M139.5 665.60H153.3M139.5 680.23H153.3M139.5 694.86H153.3M139.5 709.49H153.3M139.5 724.11H153.3M139.5 738.74H153.3M139.5 753.37H153.3M139.5 768.00H153.3" fill="none" stroke="#4b0082" stroke-width="1.05"/>
<path d="M146.5 670.48H153.3M146.5 675.35H153.3M146.5 685.10H153.3M146.5 689.98H153.3M146.5 699.73H153.3M146.5 704.61H153.3M146.5 714.36H153.3M146.5 719.24H153.3M146.5 728.99H153.3M146.5 733.87H153.3M146.5 743.62H153.3M146.5 748.50H153.3M146.5 758.25H153.3M146.5 763.12H153.3" fill="none" stroke="#4b0082" stroke-width="0.8"/>
<path d="M153.30 768.0V781.9M193.14 768.0V781.9M232.99 768.0V781.9M272.83 768.0V781.9M312.68 768.0V781.9M352.52 768.0V781.9M392.37 768.0V781.9M432.21 768.0V781.9M472.06 768.0V781.9M511.90 768.0V781.9M551.74 768.0V781.9M591.59 768.0V781.9M631.43 768.0V781.9M671.28 768.0V781.9M711.12 768.0V781.9M750.97 768.0V781.9M790.81 768.0V781.9M830.66 768.0V781.9M870.50 768.0V781.9" fill="none" stroke="#4b0082" stroke-width="1.05"/>
<text x="134.2" y="668.4" font-size="7.8" text-anchor="end" fill="#4b0082">30</text>
<text x="134.2" y="683.0" font-size="7.8" text-anchor="end" fill="#4b0082">27</text>
<text x="134.2" y="697.7" font-size="7.8" text-anchor="end" fill="#4b0082">24</text>
<text x="134.2" y="712.3" font-size="7.8" text-anchor="end" fill="#4b0082">21</text>
<text x="134.2" y="726.9" font-size="7.8" text-anchor="end" fill="#4b0082">18</text>
<text x="134.2" y="741.5" font-size="7.8" text-anchor="end" fill="#4b0082">15</text>
<text x="134.2" y="756.2" font-size="7.8" text-anchor="end" fill="#4b0082">12</text>
<text x="134.2" y="770.8" font-size="7.8" text-anchor="end" fill="#4b0082">9</text>
<text transform="translate(110.7 716.2) rotate(-90)" font-size="16.9" text-anchor="middle" fill="#4b0082">XGBoost T2 (deg C)</text>
<polyline points="153.3,743.6 163.3,729.3 173.2,681.9 183.2,667.4 193.1,667.0 203.1,694.2 213.1,712.7 223.0,724.5 233.0,735.8 243.0,740.5 252.9,690.3 262.9,668.8 272.8,667.2 282.8,694.8 292.8,713.7 302.7,724.5 312.7,735.4 322.6,739.1 332.6,692.8 342.6,677.8 352.5,682.5 362.5,711.8 372.4,729.9 382.4,743.0 392.4,751.4 402.3,754.5 412.3,722.5 422.3,711.2 432.2,706.9 442.2,720.5 452.1,734.2 462.1,745.4 472.1,756.7 482.0,758.6 492.0,720.2 501.9,705.9 511.9,700.6 521.9,713.7 531.8,726.2 541.8,735.2 551.7,745.4 561.7,747.3 571.7,704.9 581.6,692.6 591.6,690.9 601.6,711.2 611.5,725.4 621.5,736.2 631.4,751.0 641.4,748.3 651.4,726.4 661.3,713.7 671.3,712.3 681.2,731.3 691.2,745.0 701.2,753.9 711.1,762.1 721.1,760.2 731.0,727.9 741.0,712.3 751.0,708.2 760.9,718.6 770.9,735.8 780.9,745.9 790.8,753.8 800.8,755.3 810.7,718.0 820.7,704.5 830.7,710.2 840.6,724.5 850.6,738.1 860.5,752.2 870.5,757.1" fill="none" stroke="#ff0000" stroke-width="1.3" stroke-linejoin="round"/>
<rect x="153.3" y="665.6" width="717.2" height="102.4" fill="none" stroke="#4b0082" stroke-width="1.15"/>
<path d="M139.5 768.0H870.5" stroke="#4b0082" stroke-width="1.4"/>
<path d="M153.3 768.0H870.5" stroke="#9a78c0" stroke-width="1.3" stroke-dasharray="3.9 5.3" fill="none"/>
<text transform="translate(155.9 792.2) rotate(-45)" font-size="11.5" text-anchor="middle" fill="#4b0082" y="4.0">01_00</text>
<text transform="translate(195.7 792.2) rotate(-45)" font-size="11.5" text-anchor="middle" fill="#4b0082" y="4.0">01_12</text>
<text transform="translate(235.6 792.2) rotate(-45)" font-size="11.5" text-anchor="middle" fill="#4b0082" y="4.0">02_00</text>
<text transform="translate(275.4 792.2) rotate(-45)" font-size="11.5" text-anchor="middle" fill="#4b0082" y="4.0">02_12</text>
<text transform="translate(315.3 792.2) rotate(-45)" font-size="11.5" text-anchor="middle" fill="#4b0082" y="4.0">03_00</text>
<text transform="translate(355.1 792.2) rotate(-45)" font-size="11.5" text-anchor="middle" fill="#4b0082" y="4.0">03_12</text>
<text transform="translate(394.9 792.2) rotate(-45)" font-size="11.5" text-anchor="middle" fill="#4b0082" y="4.0">04_00</text>
<text transform="translate(434.8 792.2) rotate(-45)" font-size="11.5" text-anchor="middle" fill="#4b0082" y="4.0">04_12</text>
<text transform="translate(474.6 792.2) rotate(-45)" font-size="11.5" text-anchor="middle" fill="#4b0082" y="4.0">05_00</text>
<text transform="translate(514.4 792.2) rotate(-45)" font-size="11.5" text-anchor="middle" fill="#4b0082" y="4.0">05_12</text>
<text transform="translate(554.3 792.2) rotate(-45)" font-size="11.5" text-anchor="middle" fill="#4b0082" y="4.0">06_00</text>
<text transform="translate(594.1 792.2) rotate(-45)" font-size="11.5" text-anchor="middle" fill="#4b0082" y="4.0">06_12</text>
<text transform="translate(634.0 792.2) rotate(-45)" font-size="11.5" text-anchor="middle" fill="#4b0082" y="4.0">07_00</text>
<text transform="translate(673.8 792.2) rotate(-45)" font-size="11.5" text-anchor="middle" fill="#4b0082" y="4.0">07_12</text>
<text transform="translate(713.6 792.2) rotate(-45)" font-size="11.5" text-anchor="middle" fill="#4b0082" y="4.0">08_00</text>
<text transform="translate(753.5 792.2) rotate(-45)" font-size="11.5" text-anchor="middle" fill="#4b0082" y="4.0">08_12</text>
<text transform="translate(793.3 792.2) rotate(-45)" font-size="11.5" text-anchor="middle" fill="#4b0082" y="4.0">09_00</text>
<text transform="translate(833.2 792.2) rotate(-45)" font-size="11.5" text-anchor="middle" fill="#4b0082" y="4.0">09_12</text>
<text transform="translate(873.0 792.2) rotate(-45)" font-size="11.5" text-anchor="middle" fill="#4b0082" y="4.0">10_00</text>
<rect x="378.45" y="829.3" width="8.15" height="122.9" fill="#00ff00" stroke="#7a3ca0" stroke-opacity="0.65" stroke-width="0.8"/>
<path d="M153.3 838.11H870.5M153.3 857.13H870.5M153.3 876.14H870.5M153.3 895.16H870.5M153.3 914.17H870.5M153.3 933.19H870.5M193.14 819.1V952.2M232.99 819.1V952.2M272.83 819.1V952.2M312.68 819.1V952.2M352.52 819.1V952.2M392.37 819.1V952.2M432.21 819.1V952.2M472.06 819.1V952.2M511.90 819.1V952.2M551.74 819.1V952.2M591.59 819.1V952.2M631.43 819.1V952.2M671.28 819.1V952.2M711.12 819.1V952.2M750.97 819.1V952.2M790.81 819.1V952.2M830.66 819.1V952.2" fill="none" stroke="#8a5cb4" stroke-width="0.9" stroke-dasharray="3.9 5.3"/>
<path d="M139.5 819.10H153.3M139.5 838.11H153.3M139.5 857.13H153.3M139.5 876.14H153.3M139.5 895.16H153.3M139.5 914.17H153.3M139.5 933.19H153.3M139.5 952.20H153.3" fill="none" stroke="#4b0082" stroke-width="1.05"/>
<path d="M146.5 822.90H153.3M146.5 826.71H153.3M146.5 830.51H153.3M146.5 834.31H153.3M146.5 841.92H153.3M146.5 845.72H153.3M146.5 849.52H153.3M146.5 853.33H153.3M146.5 860.93H153.3M146.5 864.73H153.3M146.5 868.54H153.3M146.5 872.34H153.3M146.5 879.95H153.3M146.5 883.75H153.3M146.5 887.55H153.3M146.5 891.35H153.3M146.5 898.96H153.3M146.5 902.76H153.3M146.5 906.57H153.3M146.5 910.37H153.3M146.5 917.97H153.3M146.5 921.78H153.3M146.5 925.58H153.3M146.5 929.38H153.3M146.5 936.99H153.3M146.5 940.79H153.3M146.5 944.59H153.3M146.5 948.40H153.3" fill="none" stroke="#4b0082" stroke-width="0.8"/>
<path d="M153.30 952.2V966.9M193.14 952.2V966.9M232.99 952.2V966.9M272.83 952.2V966.9M312.68 952.2V966.9M352.52 952.2V966.9M392.37 952.2V966.9M432.21 952.2V966.9M472.06 952.2V966.9M511.90 952.2V966.9M551.74 952.2V966.9M591.59 952.2V966.9M631.43 952.2V966.9M671.28 952.2V966.9M711.12 952.2V966.9M750.97 952.2V966.9M790.81 952.2V966.9M830.66 952.2V966.9M870.50 952.2V966.9" fill="none" stroke="#4b0082" stroke-width="1.05"/>
<text x="132.9" y="821.9" font-size="7.8" text-anchor="end" fill="#4b0082">3.5</text>
<text x="132.9" y="840.9" font-size="7.8" text-anchor="end" fill="#4b0082">3.0</text>
<text x="132.9" y="859.9" font-size="7.8" text-anchor="end" fill="#4b0082">2.5</text>
<text x="132.9" y="878.9" font-size="7.8" text-anchor="end" fill="#4b0082">2.0</text>
<text x="132.9" y="898.0" font-size="7.8" text-anchor="end" fill="#4b0082">1.5</text>
<text x="132.9" y="917.0" font-size="7.8" text-anchor="end" fill="#4b0082">1.0</text>
<text x="132.9" y="936.0" font-size="7.8" text-anchor="end" fill="#4b0082">0.5</text>
<text x="132.9" y="955.0" font-size="7.8" text-anchor="end" fill="#4b0082">0.0</text>
<text transform="translate(108.4 885.5) rotate(-90)" font-size="17.3" text-anchor="middle" fill="#4b0082">PRECIP, mm</text>
<rect x="153.3" y="819.1" width="717.2" height="133.1" fill="none" stroke="#4b0082" stroke-width="1.15"/>
<text transform="translate(155.9 977.2) rotate(-45)" font-size="11.5" text-anchor="middle" fill="#4b0082" y="4.0">01_00</text>
<text transform="translate(195.7 977.2) rotate(-45)" font-size="11.5" text-anchor="middle" fill="#4b0082" y="4.0">01_12</text>
<text transform="translate(235.6 977.2) rotate(-45)" font-size="11.5" text-anchor="middle" fill="#4b0082" y="4.0">02_00</text>
<text transform="translate(275.4 977.2) rotate(-45)" font-size="11.5" text-anchor="middle" fill="#4b0082" y="4.0">02_12</text>
<text transform="translate(315.3 977.2) rotate(-45)" font-size="11.5" text-anchor="middle" fill="#4b0082" y="4.0">03_00</text>
<text transform="translate(355.1 977.2) rotate(-45)" font-size="11.5" text-anchor="middle" fill="#4b0082" y="4.0">03_12</text>
<text transform="translate(394.9 977.2) rotate(-45)" font-size="11.5" text-anchor="middle" fill="#4b0082" y="4.0">04_00</text>
<text transform="translate(434.8 977.2) rotate(-45)" font-size="11.5" text-anchor="middle" fill="#4b0082" y="4.0">04_12</text>
<text transform="translate(474.6 977.2) rotate(-45)" font-size="11.5" text-anchor="middle" fill="#4b0082" y="4.0">05_00</text>
<text transform="translate(514.4 977.2) rotate(-45)" font-size="11.5" text-anchor="middle" fill="#4b0082" y="4.0">05_12</text>
<text transform="translate(554.3 977.2) rotate(-45)" font-size="11.5" text-anchor="middle" fill="#4b0082" y="4.0">06_00</text>
<text transform="translate(594.1 977.2) rotate(-45)" font-size="11.5" text-anchor="middle" fill="#4b0082" y="4.0">06_12</text>
<text transform="translate(634.0 977.2) rotate(-45)" font-size="11.5" text-anchor="middle" fill="#4b0082" y="4.0">07_00</text>
<text transform="translate(673.8 977.2) rotate(-45)" font-size="11.5" text-anchor="middle" fill="#4b0082" y="4.0">07_12</text>
<text transform="translate(713.6 977.2) rotate(-45)" font-size="11.5" text-anchor="middle" fill="#4b0082" y="4.0">08_00</text>
<text transform="translate(753.5 977.2) rotate(-45)" font-size="11.5" text-anchor="middle" fill="#4b0082" y="4.0">08_12</text>
<text transform="translate(793.3 977.2) rotate(-45)" font-size="11.5" text-anchor="middle" fill="#4b0082" y="4.0">09_00</text>
<text transform="translate(833.2 977.2) rotate(-45)" font-size="11.5" text-anchor="middle" fill="#4b0082" y="4.0">09_12</text>
<text transform="translate(873.0 977.2) rotate(-45)" font-size="11.5" text-anchor="middle" fill="#4b0082" y="4.0">10_00</text>
</svg></body></html>
